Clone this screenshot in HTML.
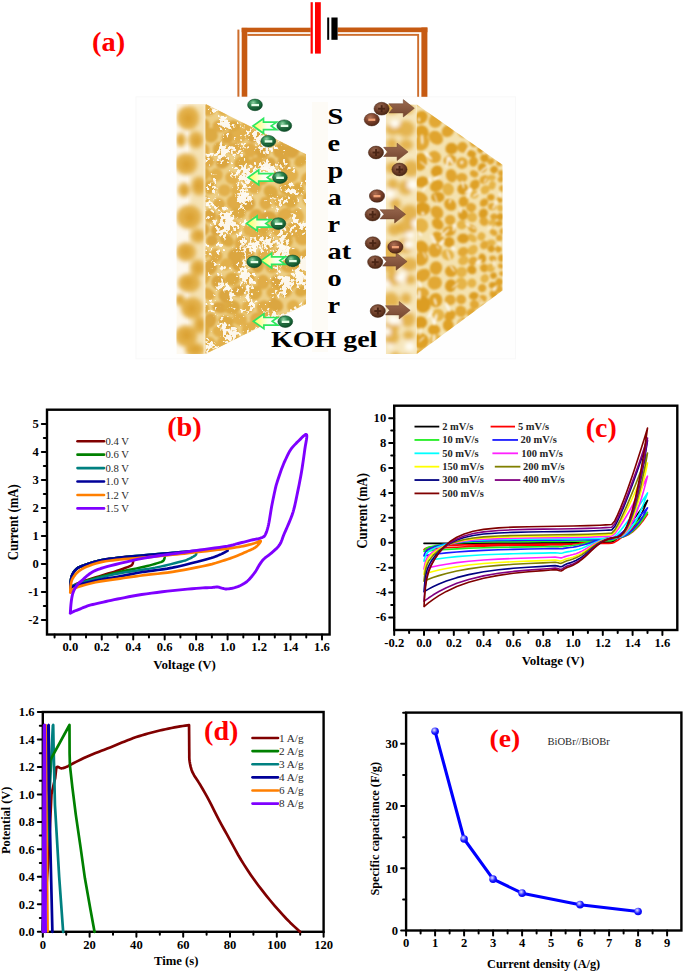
<!DOCTYPE html>
<html><head><meta charset="utf-8"><style>
html,body{margin:0;padding:0;background:#fff;}
body{width:685px;height:972px;overflow:hidden;position:relative;font-family:"Liberation Serif", serif;}
svg{position:absolute;left:0;top:0;display:block;}
svg text{font-family:"Liberation Serif", serif;}
</style></head><body>
<svg width="685" height="972" viewBox="0 0 685 972">
<rect x="136" y="96.8" width="379.6" height="262" fill="#fefefe" stroke="#f8f8f8" stroke-width="1"/>
<rect x="312" y="102" width="16" height="250" fill="#fdfbf6"/>
<defs>
<filter id="blur1" x="-10%" y="-10%" width="120%" height="120%"><feGaussianBlur stdDeviation="1.1"/></filter>
<filter id="blur2" x="-10%" y="-10%" width="120%" height="120%"><feGaussianBlur stdDeviation="2.2"/></filter>
<filter id="speck" x="0" y="0" width="100%" height="100%" color-interpolation-filters="sRGB">
  <feTurbulence type="fractalNoise" baseFrequency="0.055" numOctaves="2" seed="4" result="lo"/>
  <feColorMatrix in="lo" type="matrix" values="1 0 0 0 0  1 0 0 0 0  1 0 0 0 0  0 0 0 0 1" result="lo2"/>
  <feTurbulence type="fractalNoise" baseFrequency="0.3" numOctaves="2" seed="9" result="hi"/>
  <feColorMatrix in="hi" type="matrix" values="1 0 0 0 0  1 0 0 0 0  1 0 0 0 0  0 0 0 0 1" result="hi2"/>
  <feComposite in="lo2" in2="hi2" operator="arithmetic" k1="0" k2="1.3" k3="0.9" k4="0" result="sum"/>
  <feColorMatrix in="sum" type="matrix" values="0 0 0 0 1  0 0 0 0 1  0 0 0 0 1  -12 0 0 0 12.0" result="w"/>
  <feComposite in="w" in2="SourceGraphic" operator="in" result="c"/>
  <feGaussianBlur in="c" stdDeviation="0.45"/>
</filter>
<clipPath id="clipLF"><polygon points="205.5,104 306,154.2 306,303.9 205.5,354"/></clipPath>
<clipPath id="clipLS"><rect x="176.4" y="104" width="29.1" height="250"/></clipPath>
<clipPath id="clipRF"><polygon points="416.7,104.5 502.5,164.7 502.5,290.4 416.7,354"/></clipPath>
<clipPath id="clipRS"><rect x="385.8" y="104.5" width="30.9" height="249.5"/></clipPath>
<radialGradient id="gion" cx="0.38" cy="0.3" r="0.75"><stop offset="0" stop-color="#8fd4a4"/><stop offset="0.35" stop-color="#2f8a52"/><stop offset="0.8" stop-color="#135a30"/><stop offset="1" stop-color="#0c3f20"/></radialGradient>
<radialGradient id="bion" cx="0.4" cy="0.32" r="0.75"><stop offset="0" stop-color="#9a6a52"/><stop offset="0.5" stop-color="#6e3f2a"/><stop offset="1" stop-color="#45220f"/></radialGradient>
<radialGradient id="bion2" cx="0.4" cy="0.32" r="0.75"><stop offset="0" stop-color="#b07256"/><stop offset="0.5" stop-color="#7a402a"/><stop offset="1" stop-color="#4a2414"/></radialGradient>
<linearGradient id="garrow" x1="0" y1="0" x2="1" y2="0"><stop offset="0" stop-color="#ffff55"/><stop offset="0.6" stop-color="#fbfff0"/><stop offset="1" stop-color="#ffffff"/></linearGradient>
<linearGradient id="barrow" x1="0" y1="0" x2="0" y2="1"><stop offset="0" stop-color="#9a6a50"/><stop offset="0.5" stop-color="#885840"/><stop offset="1" stop-color="#74462f"/></linearGradient>
</defs>
<g clip-path="url(#clipLS)"><rect x="176.4" y="104" width="29.1" height="250" fill="#fdf8ee"/><rect x="190" y="104" width="16" height="250" fill="#f5e2b4" filter="url(#blur2)"/>
<g filter="url(#blur2)"><ellipse cx="188.0" cy="118.0" rx="11.2" ry="12.0" fill="#e3b048"/><ellipse cx="188.2" cy="118.5" rx="5.0" ry="5.5" fill="#d9a030" opacity="0.8"/><ellipse cx="196.0" cy="140.0" rx="7.5" ry="8.4" fill="#e3b048"/><ellipse cx="196.6" cy="140.9" rx="3.3" ry="3.9" fill="#d9a030" opacity="0.8"/><ellipse cx="186.0" cy="164.0" rx="11.2" ry="10.8" fill="#e3b048"/><ellipse cx="186.5" cy="164.8" rx="5.0" ry="5.0" fill="#d9a030" opacity="0.8"/><ellipse cx="199.0" cy="186.0" rx="7.5" ry="9.6" fill="#e3b048"/><ellipse cx="198.1" cy="185.9" rx="3.3" ry="4.4" fill="#d9a030" opacity="0.8"/><ellipse cx="189.0" cy="217.0" rx="12.5" ry="12.0" fill="#e3b048"/><ellipse cx="189.9" cy="217.3" rx="5.5" ry="5.5" fill="#d9a030" opacity="0.8"/><ellipse cx="198.0" cy="236.0" rx="7.5" ry="7.2" fill="#e3b048"/><ellipse cx="198.8" cy="235.2" rx="3.3" ry="3.3" fill="#d9a030" opacity="0.8"/><ellipse cx="186.0" cy="252.0" rx="10.0" ry="9.6" fill="#e3b048"/><ellipse cx="185.9" cy="251.5" rx="4.4" ry="4.4" fill="#d9a030" opacity="0.8"/><ellipse cx="198.0" cy="268.0" rx="7.5" ry="8.4" fill="#e3b048"/><ellipse cx="198.1" cy="268.1" rx="3.3" ry="3.9" fill="#d9a030" opacity="0.8"/><ellipse cx="189.0" cy="283.0" rx="11.2" ry="9.6" fill="#e3b048"/><ellipse cx="188.0" cy="282.4" rx="5.0" ry="4.4" fill="#d9a030" opacity="0.8"/><ellipse cx="192.0" cy="308.0" rx="11.2" ry="10.8" fill="#e3b048"/><ellipse cx="191.6" cy="308.8" rx="5.0" ry="5.0" fill="#d9a030" opacity="0.8"/><ellipse cx="200.0" cy="325.0" rx="6.2" ry="8.4" fill="#e3b048"/><ellipse cx="200.5" cy="324.3" rx="2.8" ry="3.9" fill="#d9a030" opacity="0.8"/><ellipse cx="186.0" cy="336.0" rx="11.2" ry="10.8" fill="#e3b048"/><ellipse cx="186.6" cy="335.3" rx="5.0" ry="5.0" fill="#d9a030" opacity="0.8"/><ellipse cx="195.0" cy="350.0" rx="10.0" ry="7.2" fill="#e3b048"/><ellipse cx="195.2" cy="349.3" rx="4.4" ry="3.3" fill="#d9a030" opacity="0.8"/><ellipse cx="181.0" cy="140.0" rx="5.0" ry="7.2" fill="#e3b048"/><ellipse cx="180.0" cy="140.7" rx="2.2" ry="3.3" fill="#d9a030" opacity="0.8"/><ellipse cx="180.0" cy="300.0" rx="5.0" ry="6.0" fill="#e3b048"/><ellipse cx="179.4" cy="299.4" rx="2.2" ry="2.8" fill="#d9a030" opacity="0.8"/><ellipse cx="184.0" cy="190.0" rx="6.2" ry="7.2" fill="#e3b048"/><ellipse cx="185.0" cy="190.7" rx="2.8" ry="3.3" fill="#d9a030" opacity="0.8"/></g>
<rect x="203.5" y="104" width="2" height="250" fill="#f8ecd0" opacity="0.6"/></g>
<g clip-path="url(#clipLF)"><rect x="205" y="104" width="102" height="251" fill="#edcf86"/>
<g filter="url(#blur1)"><ellipse cx="202.9" cy="99.9" rx="7.4" ry="7.1" fill="#e2b04c" transform="rotate(28 203.0 98.0)"/><ellipse cx="220.3" cy="98.1" rx="8.3" ry="6.0" fill="#e2b04c" transform="rotate(16 218.0 98.0)"/><ellipse cx="232.0" cy="97.0" rx="6.7" ry="7.2" fill="#e0ac46" transform="rotate(23 233.0 98.0)"/><ellipse cx="249.6" cy="96.9" rx="8.2" ry="7.4" fill="#dba640" transform="rotate(0 248.0 98.0)"/><ellipse cx="264.8" cy="97.1" rx="7.4" ry="7.2" fill="#e0ac46" transform="rotate(-4 263.0 98.0)"/><ellipse cx="279.2" cy="96.1" rx="8.5" ry="8.0" fill="#e0ac46" transform="rotate(1 278.0 98.0)"/><ellipse cx="290.5" cy="98.1" rx="7.9" ry="6.8" fill="#e2b04c" transform="rotate(-2 293.0 98.0)"/><ellipse cx="309.9" cy="97.3" rx="7.4" ry="6.5" fill="#e0ac46" transform="rotate(40 308.0 98.0)"/><ellipse cx="207.8" cy="109.0" rx="7.9" ry="6.9" fill="#e0ac46" transform="rotate(0 210.0 111.0)"/><ellipse cx="223.5" cy="109.5" rx="6.0" ry="6.5" fill="#e2b04c" transform="rotate(9 225.0 111.0)"/><ellipse cx="240.4" cy="110.8" rx="7.1" ry="6.7" fill="#e2b04c" transform="rotate(-1 240.0 111.0)"/><ellipse cx="254.4" cy="112.4" rx="7.2" ry="5.5" fill="#dba640" transform="rotate(-26 255.0 111.0)"/><ellipse cx="271.1" cy="112.9" rx="7.7" ry="6.1" fill="#dba640" transform="rotate(-20 270.0 111.0)"/><ellipse cx="282.7" cy="108.9" rx="8.3" ry="7.3" fill="#dba640" transform="rotate(37 285.0 111.0)"/><ellipse cx="299.6" cy="111.0" rx="8.3" ry="6.2" fill="#e2b04c" transform="rotate(-7 300.0 111.0)"/><ellipse cx="202.4" cy="125.3" rx="7.2" ry="7.1" fill="#dba640" transform="rotate(0 203.0 124.0)"/><ellipse cx="220.3" cy="126.1" rx="8.0" ry="6.3" fill="#e0ac46" transform="rotate(0 218.0 124.0)"/><ellipse cx="234.3" cy="126.3" rx="7.6" ry="6.2" fill="#ddaa42" transform="rotate(14 233.0 124.0)"/><ellipse cx="249.3" cy="124.4" rx="7.1" ry="7.5" fill="#e2b04c" transform="rotate(25 248.0 124.0)"/><ellipse cx="261.6" cy="122.0" rx="6.1" ry="7.4" fill="#e0ac46" transform="rotate(-6 263.0 124.0)"/><ellipse cx="276.5" cy="122.4" rx="8.1" ry="5.7" fill="#e0ac46" transform="rotate(37 278.0 124.0)"/><ellipse cx="293.4" cy="126.5" rx="6.2" ry="7.8" fill="#e0ac46" transform="rotate(7 293.0 124.0)"/><ellipse cx="305.6" cy="121.9" rx="6.0" ry="7.8" fill="#dba640" transform="rotate(-23 308.0 124.0)"/><ellipse cx="211.5" cy="135.6" rx="7.1" ry="7.5" fill="#ddaa42" transform="rotate(-26 210.0 137.0)"/><ellipse cx="226.8" cy="139.3" rx="6.8" ry="5.7" fill="#dba640" transform="rotate(-38 225.0 137.0)"/><ellipse cx="240.6" cy="136.1" rx="8.0" ry="6.7" fill="#e2b04c" transform="rotate(-24 240.0 137.0)"/><ellipse cx="255.0" cy="136.7" rx="7.8" ry="5.7" fill="#dba640" transform="rotate(-15 255.0 137.0)"/><ellipse cx="268.8" cy="135.4" rx="8.2" ry="6.8" fill="#ddaa42" transform="rotate(27 270.0 137.0)"/><ellipse cx="284.8" cy="137.7" rx="6.3" ry="7.5" fill="#dba640" transform="rotate(-10 285.0 137.0)"/><ellipse cx="299.2" cy="136.3" rx="6.0" ry="5.6" fill="#ddaa42" transform="rotate(-8 300.0 137.0)"/><ellipse cx="203.0" cy="150.5" rx="6.6" ry="7.0" fill="#e0ac46" transform="rotate(33 203.0 150.0)"/><ellipse cx="219.3" cy="148.9" rx="6.7" ry="7.3" fill="#ddaa42" transform="rotate(10 218.0 150.0)"/><ellipse cx="234.6" cy="148.4" rx="8.4" ry="6.4" fill="#e0ac46" transform="rotate(9 233.0 150.0)"/><ellipse cx="249.8" cy="150.9" rx="6.8" ry="7.5" fill="#e0ac46" transform="rotate(-24 248.0 150.0)"/><ellipse cx="263.6" cy="151.3" rx="7.3" ry="7.5" fill="#dba640" transform="rotate(39 263.0 150.0)"/><ellipse cx="279.8" cy="151.0" rx="7.2" ry="7.4" fill="#dba640" transform="rotate(-4 278.0 150.0)"/><ellipse cx="291.7" cy="150.8" rx="7.8" ry="7.8" fill="#dba640" transform="rotate(8 293.0 150.0)"/><ellipse cx="310.3" cy="149.3" rx="8.0" ry="6.6" fill="#dba640" transform="rotate(16 308.0 150.0)"/><ellipse cx="208.0" cy="161.4" rx="6.4" ry="6.0" fill="#e0ac46" transform="rotate(2 210.0 163.0)"/><ellipse cx="223.2" cy="161.7" rx="7.2" ry="5.9" fill="#dba640" transform="rotate(-23 225.0 163.0)"/><ellipse cx="242.1" cy="163.3" rx="8.4" ry="6.5" fill="#ddaa42" transform="rotate(-29 240.0 163.0)"/><ellipse cx="257.0" cy="163.2" rx="8.0" ry="6.5" fill="#e0ac46" transform="rotate(8 255.0 163.0)"/><ellipse cx="270.0" cy="163.0" rx="6.0" ry="5.7" fill="#dba640" transform="rotate(-1 270.0 163.0)"/><ellipse cx="283.9" cy="162.8" rx="6.4" ry="8.0" fill="#dba640" transform="rotate(-10 285.0 163.0)"/><ellipse cx="301.8" cy="162.0" rx="7.0" ry="5.5" fill="#ddaa42" transform="rotate(-39 300.0 163.0)"/><ellipse cx="202.0" cy="173.7" rx="8.3" ry="7.7" fill="#ddaa42" transform="rotate(-9 203.0 176.0)"/><ellipse cx="217.3" cy="174.1" rx="6.6" ry="6.6" fill="#e2b04c" transform="rotate(-37 218.0 176.0)"/><ellipse cx="233.6" cy="178.4" rx="7.1" ry="6.1" fill="#e2b04c" transform="rotate(39 233.0 176.0)"/><ellipse cx="247.3" cy="174.9" rx="8.4" ry="7.0" fill="#e2b04c" transform="rotate(-26 248.0 176.0)"/><ellipse cx="260.7" cy="177.1" rx="6.5" ry="6.8" fill="#ddaa42" transform="rotate(-33 263.0 176.0)"/><ellipse cx="280.0" cy="175.7" rx="8.1" ry="6.8" fill="#e2b04c" transform="rotate(25 278.0 176.0)"/><ellipse cx="291.7" cy="173.8" rx="7.7" ry="7.5" fill="#e2b04c" transform="rotate(-39 293.0 176.0)"/><ellipse cx="306.8" cy="178.4" rx="7.3" ry="6.7" fill="#e0ac46" transform="rotate(-30 308.0 176.0)"/><ellipse cx="209.4" cy="187.2" rx="6.8" ry="7.0" fill="#ddaa42" transform="rotate(-1 210.0 189.0)"/><ellipse cx="224.3" cy="190.3" rx="6.3" ry="5.9" fill="#e2b04c" transform="rotate(-4 225.0 189.0)"/><ellipse cx="238.3" cy="191.2" rx="6.8" ry="7.0" fill="#e2b04c" transform="rotate(13 240.0 189.0)"/><ellipse cx="253.4" cy="187.3" rx="7.3" ry="7.0" fill="#e2b04c" transform="rotate(23 255.0 189.0)"/><ellipse cx="272.3" cy="190.8" rx="7.6" ry="6.5" fill="#ddaa42" transform="rotate(35 270.0 189.0)"/><ellipse cx="285.9" cy="188.9" rx="6.4" ry="6.8" fill="#ddaa42" transform="rotate(-25 285.0 189.0)"/><ellipse cx="298.3" cy="189.2" rx="6.0" ry="7.1" fill="#ddaa42" transform="rotate(-5 300.0 189.0)"/><ellipse cx="201.4" cy="200.9" rx="8.4" ry="6.3" fill="#e2b04c" transform="rotate(-30 203.0 202.0)"/><ellipse cx="220.1" cy="203.3" rx="6.3" ry="5.7" fill="#e0ac46" transform="rotate(30 218.0 202.0)"/><ellipse cx="233.7" cy="202.6" rx="7.7" ry="6.9" fill="#e0ac46" transform="rotate(-38 233.0 202.0)"/><ellipse cx="247.4" cy="203.5" rx="7.9" ry="7.8" fill="#dba640" transform="rotate(6 248.0 202.0)"/><ellipse cx="265.0" cy="204.1" rx="6.1" ry="6.6" fill="#e0ac46" transform="rotate(-21 263.0 202.0)"/><ellipse cx="280.0" cy="201.3" rx="7.2" ry="6.2" fill="#e2b04c" transform="rotate(-14 278.0 202.0)"/><ellipse cx="291.5" cy="200.2" rx="7.3" ry="7.1" fill="#ddaa42" transform="rotate(-26 293.0 202.0)"/><ellipse cx="310.4" cy="200.2" rx="6.8" ry="7.8" fill="#ddaa42" transform="rotate(-28 308.0 202.0)"/><ellipse cx="210.0" cy="215.9" rx="6.5" ry="6.9" fill="#dba640" transform="rotate(6 210.0 215.0)"/><ellipse cx="222.8" cy="216.6" rx="6.7" ry="6.3" fill="#e0ac46" transform="rotate(-21 225.0 215.0)"/><ellipse cx="238.0" cy="213.1" rx="7.6" ry="6.0" fill="#ddaa42" transform="rotate(6 240.0 215.0)"/><ellipse cx="256.6" cy="215.3" rx="7.0" ry="7.5" fill="#e0ac46" transform="rotate(38 255.0 215.0)"/><ellipse cx="269.2" cy="216.7" rx="7.8" ry="5.6" fill="#dba640" transform="rotate(8 270.0 215.0)"/><ellipse cx="285.1" cy="214.4" rx="8.2" ry="6.1" fill="#e0ac46" transform="rotate(-28 285.0 215.0)"/><ellipse cx="297.6" cy="215.2" rx="6.1" ry="7.8" fill="#e2b04c" transform="rotate(-18 300.0 215.0)"/><ellipse cx="202.5" cy="229.4" rx="7.4" ry="6.6" fill="#dba640" transform="rotate(23 203.0 228.0)"/><ellipse cx="217.4" cy="229.0" rx="7.8" ry="6.0" fill="#dba640" transform="rotate(-34 218.0 228.0)"/><ellipse cx="232.2" cy="227.1" rx="8.3" ry="7.7" fill="#e2b04c" transform="rotate(-2 233.0 228.0)"/><ellipse cx="249.3" cy="230.0" rx="6.3" ry="6.3" fill="#e2b04c" transform="rotate(-1 248.0 228.0)"/><ellipse cx="261.6" cy="228.9" rx="7.5" ry="6.5" fill="#ddaa42" transform="rotate(-30 263.0 228.0)"/><ellipse cx="278.8" cy="229.3" rx="7.9" ry="6.9" fill="#e2b04c" transform="rotate(34 278.0 228.0)"/><ellipse cx="294.6" cy="228.7" rx="8.0" ry="7.5" fill="#e0ac46" transform="rotate(35 293.0 228.0)"/><ellipse cx="308.6" cy="230.0" rx="8.0" ry="6.5" fill="#ddaa42" transform="rotate(7 308.0 228.0)"/><ellipse cx="212.1" cy="241.4" rx="6.0" ry="5.5" fill="#dba640" transform="rotate(-23 210.0 241.0)"/><ellipse cx="225.8" cy="239.4" rx="8.1" ry="5.7" fill="#ddaa42" transform="rotate(35 225.0 241.0)"/><ellipse cx="241.3" cy="243.1" rx="6.8" ry="7.9" fill="#e0ac46" transform="rotate(2 240.0 241.0)"/><ellipse cx="257.5" cy="240.3" rx="7.8" ry="7.7" fill="#e2b04c" transform="rotate(-24 255.0 241.0)"/><ellipse cx="267.8" cy="241.0" rx="7.1" ry="7.7" fill="#ddaa42" transform="rotate(-38 270.0 241.0)"/><ellipse cx="286.5" cy="240.3" rx="6.6" ry="8.0" fill="#ddaa42" transform="rotate(-32 285.0 241.0)"/><ellipse cx="301.2" cy="238.9" rx="7.2" ry="5.6" fill="#e0ac46" transform="rotate(21 300.0 241.0)"/><ellipse cx="201.4" cy="253.1" rx="7.9" ry="5.7" fill="#e2b04c" transform="rotate(18 203.0 254.0)"/><ellipse cx="215.5" cy="254.6" rx="6.4" ry="7.0" fill="#e0ac46" transform="rotate(-23 218.0 254.0)"/><ellipse cx="235.0" cy="256.2" rx="8.0" ry="7.3" fill="#dba640" transform="rotate(-19 233.0 254.0)"/><ellipse cx="246.3" cy="253.8" rx="7.6" ry="6.2" fill="#dba640" transform="rotate(32 248.0 254.0)"/><ellipse cx="263.3" cy="255.9" rx="7.0" ry="7.3" fill="#e2b04c" transform="rotate(-31 263.0 254.0)"/><ellipse cx="280.0" cy="253.4" rx="7.8" ry="5.8" fill="#ddaa42" transform="rotate(26 278.0 254.0)"/><ellipse cx="292.3" cy="254.8" rx="7.8" ry="6.5" fill="#ddaa42" transform="rotate(-37 293.0 254.0)"/><ellipse cx="305.5" cy="254.9" rx="8.5" ry="6.5" fill="#e0ac46" transform="rotate(-28 308.0 254.0)"/><ellipse cx="210.5" cy="267.0" rx="6.7" ry="7.6" fill="#dba640" transform="rotate(4 210.0 267.0)"/><ellipse cx="227.2" cy="265.1" rx="6.5" ry="5.6" fill="#e2b04c" transform="rotate(-32 225.0 267.0)"/><ellipse cx="238.0" cy="265.0" rx="6.5" ry="6.5" fill="#dba640" transform="rotate(1 240.0 267.0)"/><ellipse cx="257.4" cy="265.3" rx="6.3" ry="7.4" fill="#dba640" transform="rotate(7 255.0 267.0)"/><ellipse cx="272.1" cy="265.2" rx="7.5" ry="7.7" fill="#e2b04c" transform="rotate(14 270.0 267.0)"/><ellipse cx="287.4" cy="265.3" rx="7.9" ry="6.5" fill="#e0ac46" transform="rotate(22 285.0 267.0)"/><ellipse cx="302.3" cy="266.3" rx="7.8" ry="5.6" fill="#ddaa42" transform="rotate(-6 300.0 267.0)"/><ellipse cx="203.8" cy="278.4" rx="8.3" ry="6.6" fill="#e2b04c" transform="rotate(-40 203.0 280.0)"/><ellipse cx="217.4" cy="282.1" rx="7.0" ry="7.2" fill="#dba640" transform="rotate(-23 218.0 280.0)"/><ellipse cx="232.5" cy="278.9" rx="7.7" ry="6.8" fill="#ddaa42" transform="rotate(-5 233.0 280.0)"/><ellipse cx="247.6" cy="278.7" rx="6.6" ry="7.4" fill="#e0ac46" transform="rotate(36 248.0 280.0)"/><ellipse cx="262.8" cy="282.1" rx="6.6" ry="7.4" fill="#e0ac46" transform="rotate(-5 263.0 280.0)"/><ellipse cx="276.1" cy="282.4" rx="6.3" ry="7.8" fill="#dba640" transform="rotate(-15 278.0 280.0)"/><ellipse cx="290.9" cy="281.5" rx="8.2" ry="7.4" fill="#e2b04c" transform="rotate(-9 293.0 280.0)"/><ellipse cx="305.9" cy="279.4" rx="7.8" ry="6.3" fill="#e2b04c" transform="rotate(10 308.0 280.0)"/><ellipse cx="208.4" cy="295.1" rx="7.8" ry="5.7" fill="#e0ac46" transform="rotate(31 210.0 293.0)"/><ellipse cx="223.8" cy="295.5" rx="6.4" ry="7.4" fill="#dba640" transform="rotate(-25 225.0 293.0)"/><ellipse cx="239.4" cy="290.7" rx="8.1" ry="5.8" fill="#dba640" transform="rotate(-11 240.0 293.0)"/><ellipse cx="254.7" cy="292.8" rx="7.1" ry="7.6" fill="#ddaa42" transform="rotate(17 255.0 293.0)"/><ellipse cx="272.1" cy="291.3" rx="6.3" ry="6.1" fill="#e2b04c" transform="rotate(31 270.0 293.0)"/><ellipse cx="286.8" cy="290.9" rx="6.7" ry="7.2" fill="#ddaa42" transform="rotate(-35 285.0 293.0)"/><ellipse cx="302.4" cy="291.6" rx="7.2" ry="5.5" fill="#ddaa42" transform="rotate(-16 300.0 293.0)"/><ellipse cx="203.0" cy="308.5" rx="6.0" ry="5.9" fill="#ddaa42" transform="rotate(-4 203.0 306.0)"/><ellipse cx="220.1" cy="307.1" rx="7.9" ry="5.6" fill="#dba640" transform="rotate(11 218.0 306.0)"/><ellipse cx="232.0" cy="307.4" rx="8.4" ry="7.3" fill="#ddaa42" transform="rotate(0 233.0 306.0)"/><ellipse cx="247.7" cy="307.1" rx="6.2" ry="6.3" fill="#e2b04c" transform="rotate(-5 248.0 306.0)"/><ellipse cx="264.2" cy="307.6" rx="7.9" ry="7.5" fill="#e0ac46" transform="rotate(2 263.0 306.0)"/><ellipse cx="275.6" cy="306.4" rx="7.9" ry="6.4" fill="#dba640" transform="rotate(35 278.0 306.0)"/><ellipse cx="293.2" cy="306.2" rx="6.3" ry="6.0" fill="#e2b04c" transform="rotate(-14 293.0 306.0)"/><ellipse cx="308.8" cy="307.0" rx="6.1" ry="7.7" fill="#e2b04c" transform="rotate(-20 308.0 306.0)"/><ellipse cx="210.5" cy="320.5" rx="6.3" ry="7.6" fill="#dba640" transform="rotate(20 210.0 319.0)"/><ellipse cx="226.4" cy="321.1" rx="8.0" ry="5.8" fill="#ddaa42" transform="rotate(10 225.0 319.0)"/><ellipse cx="239.8" cy="319.4" rx="7.6" ry="6.4" fill="#e2b04c" transform="rotate(18 240.0 319.0)"/><ellipse cx="257.0" cy="319.3" rx="7.0" ry="6.9" fill="#e0ac46" transform="rotate(-5 255.0 319.0)"/><ellipse cx="270.0" cy="316.9" rx="6.4" ry="6.7" fill="#e2b04c" transform="rotate(26 270.0 319.0)"/><ellipse cx="285.1" cy="320.5" rx="7.4" ry="5.5" fill="#e2b04c" transform="rotate(38 285.0 319.0)"/><ellipse cx="300.0" cy="320.9" rx="7.4" ry="7.0" fill="#e2b04c" transform="rotate(17 300.0 319.0)"/><ellipse cx="202.9" cy="331.0" rx="6.1" ry="7.6" fill="#ddaa42" transform="rotate(23 203.0 332.0)"/><ellipse cx="220.2" cy="331.0" rx="8.2" ry="5.9" fill="#e2b04c" transform="rotate(15 218.0 332.0)"/><ellipse cx="231.1" cy="332.0" rx="7.2" ry="7.3" fill="#e0ac46" transform="rotate(-20 233.0 332.0)"/><ellipse cx="248.4" cy="329.5" rx="8.0" ry="7.9" fill="#e2b04c" transform="rotate(28 248.0 332.0)"/><ellipse cx="261.1" cy="333.0" rx="8.1" ry="7.5" fill="#e2b04c" transform="rotate(-8 263.0 332.0)"/><ellipse cx="275.6" cy="331.6" rx="6.0" ry="5.9" fill="#e2b04c" transform="rotate(33 278.0 332.0)"/><ellipse cx="294.1" cy="330.5" rx="7.1" ry="6.8" fill="#ddaa42" transform="rotate(22 293.0 332.0)"/><ellipse cx="309.7" cy="332.8" rx="8.0" ry="6.9" fill="#dba640" transform="rotate(-6 308.0 332.0)"/><ellipse cx="208.5" cy="345.6" rx="7.8" ry="8.0" fill="#e2b04c" transform="rotate(33 210.0 345.0)"/><ellipse cx="222.6" cy="344.2" rx="6.4" ry="7.7" fill="#e2b04c" transform="rotate(3 225.0 345.0)"/><ellipse cx="238.6" cy="342.9" rx="6.2" ry="5.7" fill="#ddaa42" transform="rotate(40 240.0 345.0)"/><ellipse cx="254.2" cy="344.0" rx="7.4" ry="6.7" fill="#dba640" transform="rotate(2 255.0 345.0)"/><ellipse cx="268.5" cy="345.3" rx="7.7" ry="6.4" fill="#ddaa42" transform="rotate(-40 270.0 345.0)"/><ellipse cx="282.8" cy="347.5" rx="6.2" ry="8.0" fill="#e2b04c" transform="rotate(19 285.0 345.0)"/><ellipse cx="299.5" cy="345.4" rx="7.4" ry="6.8" fill="#e2b04c" transform="rotate(24 300.0 345.0)"/><ellipse cx="203.1" cy="356.1" rx="7.5" ry="7.9" fill="#e0ac46" transform="rotate(-31 203.0 358.0)"/><ellipse cx="220.2" cy="356.7" rx="6.7" ry="5.9" fill="#dba640" transform="rotate(26 218.0 358.0)"/><ellipse cx="231.7" cy="357.2" rx="7.5" ry="6.4" fill="#e2b04c" transform="rotate(-21 233.0 358.0)"/><ellipse cx="248.9" cy="355.8" rx="7.3" ry="6.2" fill="#e2b04c" transform="rotate(-6 248.0 358.0)"/><ellipse cx="263.6" cy="358.5" rx="7.3" ry="7.1" fill="#e2b04c" transform="rotate(-25 263.0 358.0)"/><ellipse cx="279.8" cy="357.2" rx="7.9" ry="6.0" fill="#ddaa42" transform="rotate(-13 278.0 358.0)"/><ellipse cx="294.3" cy="358.1" rx="7.4" ry="7.6" fill="#e2b04c" transform="rotate(15 293.0 358.0)"/><ellipse cx="307.0" cy="360.5" rx="7.0" ry="5.8" fill="#ddaa42" transform="rotate(-7 308.0 358.0)"/></g>
<rect x="205" y="104" width="102" height="251" fill="#ffffff" filter="url(#speck)" opacity="0.9"/>
</g>
<g clip-path="url(#clipRS)"><rect x="385.8" y="104.5" width="31" height="250" fill="#f6e6bc"/>
<g filter="url(#blur2)"><ellipse cx="392.0" cy="105.4" rx="8.2" ry="8.6" fill="#e2ab3c" opacity="0.85"/><ellipse cx="407.9" cy="108.6" rx="5.5" ry="5.4" fill="#e2ab3c" opacity="0.85"/><ellipse cx="393.0" cy="129.4" rx="7.5" ry="6.1" fill="#e2ab3c" opacity="0.85"/><ellipse cx="406.0" cy="129.0" rx="8.8" ry="8.4" fill="#e2ab3c" opacity="0.85"/><ellipse cx="391.9" cy="143.8" rx="5.7" ry="5.9" fill="#e2ab3c" opacity="0.85"/><ellipse cx="406.2" cy="144.8" rx="7.1" ry="5.9" fill="#e2ab3c" opacity="0.85"/><ellipse cx="392.6" cy="168.1" rx="7.2" ry="6.0" fill="#e2ab3c" opacity="0.85"/><ellipse cx="410.9" cy="168.5" rx="8.4" ry="8.5" fill="#e2ab3c" opacity="0.85"/><ellipse cx="392.8" cy="184.0" rx="5.4" ry="5.6" fill="#e2ab3c" opacity="0.85"/><ellipse cx="405.6" cy="187.6" rx="7.2" ry="7.4" fill="#e2ab3c" opacity="0.85"/><ellipse cx="395.6" cy="204.1" rx="5.5" ry="5.8" fill="#e2ab3c" opacity="0.85"/><ellipse cx="409.5" cy="213.0" rx="8.9" ry="8.5" fill="#e2ab3c" opacity="0.85"/><ellipse cx="394.4" cy="229.5" rx="6.9" ry="6.3" fill="#e2ab3c" opacity="0.85"/><ellipse cx="405.2" cy="226.8" rx="8.8" ry="7.1" fill="#e2ab3c" opacity="0.85"/><ellipse cx="390.7" cy="250.8" rx="9.0" ry="9.6" fill="#e2ab3c" opacity="0.85"/><ellipse cx="405.3" cy="245.7" rx="7.8" ry="7.8" fill="#e2ab3c" opacity="0.85"/><ellipse cx="390.6" cy="267.0" rx="6.2" ry="6.7" fill="#e2ab3c" opacity="0.85"/><ellipse cx="409.5" cy="264.3" rx="8.7" ry="7.1" fill="#e2ab3c" opacity="0.85"/><ellipse cx="394.5" cy="278.7" rx="8.0" ry="6.5" fill="#e2ab3c" opacity="0.85"/><ellipse cx="410.5" cy="279.6" rx="5.4" ry="4.9" fill="#e2ab3c" opacity="0.85"/><ellipse cx="390.8" cy="300.9" rx="8.5" ry="8.8" fill="#e2ab3c" opacity="0.85"/><ellipse cx="406.0" cy="298.5" rx="5.3" ry="5.8" fill="#e2ab3c" opacity="0.85"/><ellipse cx="392.3" cy="326.5" rx="7.0" ry="7.1" fill="#e2ab3c" opacity="0.85"/><ellipse cx="407.9" cy="319.4" rx="7.4" ry="7.8" fill="#e2ab3c" opacity="0.85"/><ellipse cx="391.8" cy="337.1" rx="7.5" ry="7.0" fill="#e2ab3c" opacity="0.85"/><ellipse cx="408.6" cy="335.0" rx="5.8" ry="4.6" fill="#e2ab3c" opacity="0.85"/><ellipse cx="395.3" cy="357.2" rx="5.4" ry="5.4" fill="#e2ab3c" opacity="0.85"/><ellipse cx="406.0" cy="361.7" rx="8.1" ry="7.4" fill="#e2ab3c" opacity="0.85"/><ellipse cx="400.6" cy="277.8" rx="5.2" ry="4.3" fill="#fffdf5"/><ellipse cx="391.2" cy="311.1" rx="3.9" ry="3.3" fill="#fffdf5"/><ellipse cx="393.0" cy="320.1" rx="5.5" ry="4.6" fill="#fffdf5"/><ellipse cx="412.5" cy="184.9" rx="5.7" ry="4.7" fill="#fffdf5"/><ellipse cx="409.8" cy="346.5" rx="5.1" ry="4.3" fill="#fffdf5"/><ellipse cx="417.0" cy="223.5" rx="5.1" ry="4.2" fill="#fffdf5"/><ellipse cx="410.0" cy="235.1" rx="4.2" ry="3.5" fill="#fffdf5"/><ellipse cx="397.8" cy="321.1" rx="3.8" ry="3.1" fill="#fffdf5"/><ellipse cx="408.9" cy="244.5" rx="4.9" ry="4.1" fill="#fffdf5"/><ellipse cx="394.9" cy="123.7" rx="4.8" ry="4.0" fill="#fffdf5"/><ellipse cx="389.6" cy="193.9" rx="5.2" ry="4.3" fill="#fffdf5"/><ellipse cx="386.6" cy="331.8" rx="4.5" ry="3.8" fill="#fffdf5"/><ellipse cx="403.0" cy="273.3" rx="2.6" ry="2.2" fill="#fffdf5"/><ellipse cx="385.7" cy="284.1" rx="4.5" ry="3.8" fill="#fffdf5"/><ellipse cx="405.5" cy="309.8" rx="3.4" ry="2.8" fill="#fffdf5"/><ellipse cx="390.2" cy="346.2" rx="2.6" ry="2.2" fill="#fffdf5"/></g></g>
<g clip-path="url(#clipRF)"><rect x="416" y="104" width="88" height="251" fill="#f4e2b0"/>
<g filter="url(#blur1)"><ellipse cx="421.5" cy="98.7" rx="8.1" ry="7.5" fill="#dc9d24" transform="rotate(15 421.5 98.7)"/><ellipse cx="421.1" cy="117.4" rx="7.1" ry="6.1" fill="#dfa128" transform="rotate(-42 421.1 117.4)"/><ellipse cx="422.0" cy="132.2" rx="7.2" ry="6.5" fill="#dfa128" transform="rotate(48 422.0 132.2)"/><ellipse cx="421.5" cy="142.7" rx="7.4" ry="8.4" fill="#e2a834" transform="rotate(33 421.5 142.7)"/><ellipse cx="420.5" cy="161.8" rx="6.7" ry="9.0" fill="#dfa128" transform="rotate(8 420.5 161.8)"/><ellipse cx="421.9" cy="181.9" rx="6.8" ry="5.4" fill="#dc9d24" transform="rotate(-20 421.9 181.9)"/><ellipse cx="419.8" cy="197.2" rx="8.1" ry="5.2" fill="#e0a42e" transform="rotate(21 419.8 197.2)"/><ellipse cx="422.3" cy="208.9" rx="7.9" ry="6.7" fill="#dc9d24" transform="rotate(-4 422.3 208.9)"/><ellipse cx="421.0" cy="225.5" rx="7.1" ry="7.4" fill="#e6b446" transform="rotate(-39 421.0 225.5)"/><ellipse cx="421.9" cy="247.2" rx="7.3" ry="6.0" fill="#dfa128" transform="rotate(45 421.9 247.2)"/><ellipse cx="421.3" cy="258.7" rx="6.7" ry="7.3" fill="#e0a42e" transform="rotate(30 421.3 258.7)"/><ellipse cx="422.7" cy="275.3" rx="8.0" ry="6.1" fill="#e0a42e" transform="rotate(-29 422.7 275.3)"/><ellipse cx="422.3" cy="292.3" rx="6.8" ry="5.1" fill="#e2a834" transform="rotate(16 422.3 292.3)"/><ellipse cx="422.8" cy="304.4" rx="8.0" ry="8.3" fill="#dc9d24" transform="rotate(-6 422.8 304.4)"/><ellipse cx="420.5" cy="322.5" rx="6.8" ry="6.3" fill="#dc9d24" transform="rotate(2 420.5 322.5)"/><ellipse cx="420.9" cy="341.1" rx="7.9" ry="8.0" fill="#dfa128" transform="rotate(-46 420.9 341.1)"/><ellipse cx="419.7" cy="356.0" rx="7.5" ry="6.2" fill="#e2a834" transform="rotate(-31 419.7 356.0)"/><ellipse cx="435.0" cy="109.3" rx="7.1" ry="6.2" fill="#e0a42e" transform="rotate(-23 435.0 109.3)"/><ellipse cx="435.5" cy="120.7" rx="6.7" ry="7.2" fill="#e2a834" transform="rotate(24 435.5 120.7)"/><ellipse cx="435.9" cy="137.7" rx="6.3" ry="7.7" fill="#e0a42e" transform="rotate(-49 435.9 137.7)"/><ellipse cx="434.5" cy="157.0" rx="6.7" ry="6.1" fill="#e2a834" transform="rotate(24 434.5 157.0)"/><ellipse cx="436.7" cy="171.3" rx="6.1" ry="5.5" fill="#dc9d24" transform="rotate(-38 436.7 171.3)"/><ellipse cx="436.6" cy="185.8" rx="7.1" ry="5.6" fill="#dfa128" transform="rotate(-34 436.6 185.8)"/><ellipse cx="437.8" cy="197.2" rx="6.7" ry="5.3" fill="#dc9d24" transform="rotate(-2 437.8 197.2)"/><ellipse cx="437.0" cy="212.4" rx="6.9" ry="5.9" fill="#e0a42e" transform="rotate(49 437.0 212.4)"/><ellipse cx="437.7" cy="224.0" rx="6.4" ry="5.1" fill="#dfa128" transform="rotate(41 437.7 224.0)"/><ellipse cx="437.9" cy="237.2" rx="6.2" ry="5.1" fill="#dfa128" transform="rotate(42 437.9 237.2)"/><ellipse cx="435.2" cy="250.0" rx="6.6" ry="7.4" fill="#e0a42e" transform="rotate(19 435.2 250.0)"/><ellipse cx="436.0" cy="268.0" rx="6.3" ry="6.8" fill="#e0a42e" transform="rotate(17 436.0 268.0)"/><ellipse cx="434.8" cy="282.9" rx="7.2" ry="6.7" fill="#e2a834" transform="rotate(-10 434.8 282.9)"/><ellipse cx="435.7" cy="300.1" rx="6.7" ry="7.1" fill="#dfa128" transform="rotate(7 435.7 300.1)"/><ellipse cx="437.8" cy="315.0" rx="6.5" ry="6.3" fill="#e6b446" transform="rotate(1 437.8 315.0)"/><ellipse cx="434.1" cy="329.8" rx="6.2" ry="5.3" fill="#dfa128" transform="rotate(1 434.1 329.8)"/><ellipse cx="435.8" cy="340.4" rx="6.3" ry="6.4" fill="#e6b446" transform="rotate(33 435.8 340.4)"/><ellipse cx="435.9" cy="357.5" rx="7.1" ry="5.5" fill="#e0a42e" transform="rotate(30 435.9 357.5)"/><ellipse cx="450.5" cy="106.1" rx="5.6" ry="6.4" fill="#e2a834" transform="rotate(-1 450.5 106.1)"/><ellipse cx="449.1" cy="119.8" rx="5.5" ry="4.8" fill="#dfa128" transform="rotate(0 449.1 119.8)"/><ellipse cx="447.9" cy="130.9" rx="5.7" ry="6.7" fill="#e0a42e" transform="rotate(45 447.9 130.9)"/><ellipse cx="451.5" cy="148.6" rx="6.2" ry="5.8" fill="#dc9d24" transform="rotate(-8 451.5 148.6)"/><ellipse cx="449.9" cy="160.1" rx="6.5" ry="5.1" fill="#dfa128" transform="rotate(-18 449.9 160.1)"/><ellipse cx="451.4" cy="175.7" rx="5.5" ry="6.8" fill="#e0a42e" transform="rotate(-15 451.4 175.7)"/><ellipse cx="448.2" cy="189.3" rx="5.8" ry="6.3" fill="#e6b446" transform="rotate(-15 448.2 189.3)"/><ellipse cx="450.2" cy="204.8" rx="5.5" ry="6.6" fill="#dfa128" transform="rotate(-46 450.2 204.8)"/><ellipse cx="450.1" cy="220.1" rx="5.3" ry="5.3" fill="#e2a834" transform="rotate(-45 450.1 220.1)"/><ellipse cx="449.3" cy="231.1" rx="6.5" ry="5.0" fill="#dfa128" transform="rotate(-11 449.3 231.1)"/><ellipse cx="449.1" cy="242.2" rx="5.4" ry="5.2" fill="#dc9d24" transform="rotate(5 449.1 242.2)"/><ellipse cx="447.8" cy="254.8" rx="6.4" ry="5.4" fill="#e6b446" transform="rotate(23 447.8 254.8)"/><ellipse cx="451.0" cy="271.3" rx="6.1" ry="5.7" fill="#dfa128" transform="rotate(5 451.0 271.3)"/><ellipse cx="450.6" cy="285.6" rx="5.5" ry="6.5" fill="#dc9d24" transform="rotate(17 450.6 285.6)"/><ellipse cx="450.1" cy="299.9" rx="5.5" ry="5.4" fill="#e2a834" transform="rotate(-14 450.1 299.9)"/><ellipse cx="450.1" cy="315.6" rx="6.1" ry="4.8" fill="#dfa128" transform="rotate(-38 450.1 315.6)"/><ellipse cx="448.3" cy="325.5" rx="5.5" ry="6.1" fill="#dfa128" transform="rotate(-15 448.3 325.5)"/><ellipse cx="450.2" cy="339.4" rx="5.6" ry="5.9" fill="#dfa128" transform="rotate(-18 450.2 339.4)"/><ellipse cx="450.3" cy="356.0" rx="5.8" ry="5.2" fill="#e0a42e" transform="rotate(-22 450.3 356.0)"/><ellipse cx="461.3" cy="100.9" rx="4.8" ry="3.9" fill="#dc9d24" transform="rotate(11 461.3 100.9)"/><ellipse cx="463.3" cy="112.1" rx="5.5" ry="4.1" fill="#e2a834" transform="rotate(49 463.3 112.1)"/><ellipse cx="462.3" cy="122.0" rx="5.8" ry="5.2" fill="#dfa128" transform="rotate(9 462.3 122.0)"/><ellipse cx="463.1" cy="132.5" rx="4.9" ry="5.7" fill="#e2a834" transform="rotate(-47 463.1 132.5)"/><ellipse cx="462.5" cy="147.3" rx="5.3" ry="5.5" fill="#e0a42e" transform="rotate(-22 462.5 147.3)"/><ellipse cx="462.1" cy="163.1" rx="5.8" ry="5.8" fill="#e2a834" transform="rotate(26 462.1 163.1)"/><ellipse cx="462.0" cy="177.7" rx="5.4" ry="4.8" fill="#e2a834" transform="rotate(4 462.0 177.7)"/><ellipse cx="462.9" cy="189.2" rx="5.6" ry="5.6" fill="#dc9d24" transform="rotate(18 462.9 189.2)"/><ellipse cx="463.5" cy="201.5" rx="4.9" ry="5.3" fill="#dfa128" transform="rotate(28 463.5 201.5)"/><ellipse cx="463.0" cy="214.8" rx="5.0" ry="5.3" fill="#dc9d24" transform="rotate(-2 463.0 214.8)"/><ellipse cx="461.8" cy="224.8" rx="5.0" ry="4.7" fill="#e6b446" transform="rotate(-7 461.8 224.8)"/><ellipse cx="463.1" cy="238.5" rx="5.9" ry="5.1" fill="#dc9d24" transform="rotate(0 463.1 238.5)"/><ellipse cx="463.0" cy="251.7" rx="5.4" ry="4.5" fill="#e2a834" transform="rotate(-25 463.0 251.7)"/><ellipse cx="463.4" cy="260.5" rx="5.5" ry="4.5" fill="#e6b446" transform="rotate(-34 463.4 260.5)"/><ellipse cx="461.7" cy="272.0" rx="5.4" ry="5.2" fill="#e6b446" transform="rotate(-18 461.7 272.0)"/><ellipse cx="461.4" cy="283.6" rx="5.6" ry="6.1" fill="#e6b446" transform="rotate(-25 461.4 283.6)"/><ellipse cx="461.2" cy="299.4" rx="5.0" ry="4.8" fill="#e2a834" transform="rotate(46 461.2 299.4)"/><ellipse cx="460.9" cy="311.3" rx="5.5" ry="5.8" fill="#e2a834" transform="rotate(-33 460.9 311.3)"/><ellipse cx="462.7" cy="323.2" rx="5.8" ry="5.1" fill="#e2a834" transform="rotate(-49 462.7 323.2)"/><ellipse cx="460.4" cy="334.7" rx="4.8" ry="4.6" fill="#e6b446" transform="rotate(27 460.4 334.7)"/><ellipse cx="460.0" cy="348.2" rx="5.5" ry="5.3" fill="#e0a42e" transform="rotate(18 460.0 348.2)"/><ellipse cx="473.6" cy="109.2" rx="4.4" ry="4.2" fill="#e2a834" transform="rotate(6 473.6 109.2)"/><ellipse cx="472.9" cy="119.3" rx="4.7" ry="4.5" fill="#dc9d24" transform="rotate(32 472.9 119.3)"/><ellipse cx="474.4" cy="132.0" rx="5.0" ry="5.1" fill="#e0a42e" transform="rotate(-31 474.4 132.0)"/><ellipse cx="474.2" cy="142.9" rx="4.5" ry="4.3" fill="#e2a834" transform="rotate(8 474.2 142.9)"/><ellipse cx="471.6" cy="153.9" rx="4.5" ry="3.6" fill="#dc9d24" transform="rotate(18 471.6 153.9)"/><ellipse cx="473.5" cy="161.7" rx="4.4" ry="5.0" fill="#dfa128" transform="rotate(18 473.5 161.7)"/><ellipse cx="474.1" cy="173.8" rx="4.3" ry="3.4" fill="#e0a42e" transform="rotate(23 474.1 173.8)"/><ellipse cx="474.7" cy="184.8" rx="4.6" ry="5.6" fill="#dfa128" transform="rotate(37 474.7 184.8)"/><ellipse cx="474.2" cy="194.4" rx="4.3" ry="4.2" fill="#e6b446" transform="rotate(24 474.2 194.4)"/><ellipse cx="471.2" cy="207.4" rx="5.0" ry="4.7" fill="#e2a834" transform="rotate(17 471.2 207.4)"/><ellipse cx="472.2" cy="217.3" rx="4.9" ry="5.0" fill="#e6b446" transform="rotate(-13 472.2 217.3)"/><ellipse cx="472.2" cy="228.6" rx="5.1" ry="3.4" fill="#e2a834" transform="rotate(42 472.2 228.6)"/><ellipse cx="472.3" cy="238.0" rx="5.2" ry="3.5" fill="#e6b446" transform="rotate(45 472.3 238.0)"/><ellipse cx="472.7" cy="250.0" rx="4.5" ry="5.6" fill="#e6b446" transform="rotate(42 472.7 250.0)"/><ellipse cx="473.0" cy="261.0" rx="4.7" ry="4.2" fill="#e2a834" transform="rotate(-48 473.0 261.0)"/><ellipse cx="471.8" cy="269.8" rx="4.4" ry="4.8" fill="#dc9d24" transform="rotate(-49 471.8 269.8)"/><ellipse cx="471.9" cy="283.1" rx="4.5" ry="4.7" fill="#e6b446" transform="rotate(-2 471.9 283.1)"/><ellipse cx="473.8" cy="295.9" rx="4.9" ry="3.9" fill="#dc9d24" transform="rotate(-8 473.8 295.9)"/><ellipse cx="474.6" cy="304.7" rx="4.9" ry="4.5" fill="#e2a834" transform="rotate(36 474.6 304.7)"/><ellipse cx="471.3" cy="312.9" rx="4.6" ry="4.8" fill="#e2a834" transform="rotate(50 471.3 312.9)"/><ellipse cx="472.6" cy="327.2" rx="5.2" ry="3.6" fill="#e2a834" transform="rotate(28 472.6 327.2)"/><ellipse cx="471.9" cy="335.0" rx="5.1" ry="5.4" fill="#dfa128" transform="rotate(-26 471.9 335.0)"/><ellipse cx="473.8" cy="348.7" rx="4.9" ry="4.4" fill="#dc9d24" transform="rotate(34 473.8 348.7)"/><ellipse cx="474.1" cy="359.8" rx="4.4" ry="4.8" fill="#dfa128" transform="rotate(-39 474.1 359.8)"/><ellipse cx="483.0" cy="99.3" rx="3.9" ry="3.4" fill="#e2a834" transform="rotate(-13 483.0 99.3)"/><ellipse cx="484.6" cy="108.8" rx="4.7" ry="4.3" fill="#e6b446" transform="rotate(-15 484.6 108.8)"/><ellipse cx="483.9" cy="121.7" rx="4.2" ry="4.1" fill="#e2a834" transform="rotate(39 483.9 121.7)"/><ellipse cx="482.5" cy="130.0" rx="4.0" ry="3.4" fill="#e2a834" transform="rotate(-39 482.5 130.0)"/><ellipse cx="484.3" cy="137.1" rx="3.8" ry="3.9" fill="#e2a834" transform="rotate(38 484.3 137.1)"/><ellipse cx="481.2" cy="149.6" rx="4.1" ry="3.7" fill="#dc9d24" transform="rotate(-21 481.2 149.6)"/><ellipse cx="484.5" cy="158.0" rx="4.4" ry="4.3" fill="#dc9d24" transform="rotate(-28 484.5 158.0)"/><ellipse cx="482.4" cy="167.8" rx="4.5" ry="4.7" fill="#dc9d24" transform="rotate(-13 482.4 167.8)"/><ellipse cx="484.0" cy="179.5" rx="4.0" ry="4.8" fill="#e2a834" transform="rotate(48 484.0 179.5)"/><ellipse cx="485.1" cy="189.8" rx="4.2" ry="4.9" fill="#e6b446" transform="rotate(50 485.1 189.8)"/><ellipse cx="484.0" cy="202.7" rx="4.6" ry="3.8" fill="#dfa128" transform="rotate(-40 484.0 202.7)"/><ellipse cx="483.3" cy="213.5" rx="4.5" ry="5.1" fill="#dc9d24" transform="rotate(28 483.3 213.5)"/><ellipse cx="484.0" cy="221.5" rx="4.3" ry="4.8" fill="#e2a834" transform="rotate(-50 484.0 221.5)"/><ellipse cx="481.4" cy="236.4" rx="3.9" ry="4.2" fill="#e6b446" transform="rotate(27 481.4 236.4)"/><ellipse cx="484.3" cy="245.1" rx="4.0" ry="4.5" fill="#e2a834" transform="rotate(47 484.3 245.1)"/><ellipse cx="482.3" cy="258.3" rx="3.9" ry="4.8" fill="#dc9d24" transform="rotate(-10 482.3 258.3)"/><ellipse cx="484.2" cy="268.0" rx="4.1" ry="4.1" fill="#dfa128" transform="rotate(-40 484.2 268.0)"/><ellipse cx="484.7" cy="278.5" rx="4.1" ry="4.6" fill="#e6b446" transform="rotate(34 484.7 278.5)"/><ellipse cx="482.2" cy="288.1" rx="4.1" ry="4.2" fill="#e0a42e" transform="rotate(45 482.2 288.1)"/><ellipse cx="482.8" cy="298.5" rx="4.0" ry="3.7" fill="#e2a834" transform="rotate(19 482.8 298.5)"/><ellipse cx="484.7" cy="308.0" rx="4.0" ry="4.3" fill="#dc9d24" transform="rotate(4 484.7 308.0)"/><ellipse cx="482.2" cy="319.8" rx="4.6" ry="4.3" fill="#dfa128" transform="rotate(30 482.2 319.8)"/><ellipse cx="484.5" cy="330.5" rx="4.0" ry="4.8" fill="#dfa128" transform="rotate(39 484.5 330.5)"/><ellipse cx="484.2" cy="341.9" rx="4.4" ry="3.3" fill="#dc9d24" transform="rotate(37 484.2 341.9)"/><ellipse cx="482.7" cy="350.7" rx="4.2" ry="4.2" fill="#dc9d24" transform="rotate(-13 482.7 350.7)"/><ellipse cx="493.8" cy="108.4" rx="4.2" ry="3.6" fill="#e2a834" transform="rotate(0 493.8 108.4)"/><ellipse cx="492.6" cy="118.3" rx="3.9" ry="3.4" fill="#dfa128" transform="rotate(-7 492.6 118.3)"/><ellipse cx="492.3" cy="124.9" rx="4.2" ry="3.5" fill="#dc9d24" transform="rotate(-27 492.3 124.9)"/><ellipse cx="492.9" cy="136.8" rx="4.0" ry="2.8" fill="#dc9d24" transform="rotate(26 492.9 136.8)"/><ellipse cx="493.9" cy="143.5" rx="4.2" ry="3.9" fill="#dfa128" transform="rotate(11 493.9 143.5)"/><ellipse cx="492.5" cy="151.1" rx="3.7" ry="3.9" fill="#e6b446" transform="rotate(50 492.5 151.1)"/><ellipse cx="490.9" cy="161.3" rx="3.7" ry="3.0" fill="#e0a42e" transform="rotate(-29 490.9 161.3)"/><ellipse cx="494.1" cy="169.7" rx="3.9" ry="3.7" fill="#dc9d24" transform="rotate(-38 494.1 169.7)"/><ellipse cx="491.6" cy="177.6" rx="4.0" ry="2.9" fill="#e6b446" transform="rotate(1 491.6 177.6)"/><ellipse cx="492.2" cy="185.4" rx="3.4" ry="4.3" fill="#e6b446" transform="rotate(17 492.2 185.4)"/><ellipse cx="490.9" cy="197.3" rx="3.7" ry="3.4" fill="#dfa128" transform="rotate(0 490.9 197.3)"/><ellipse cx="492.1" cy="206.6" rx="4.1" ry="3.7" fill="#e2a834" transform="rotate(2 492.1 206.6)"/><ellipse cx="493.9" cy="216.7" rx="3.6" ry="3.2" fill="#e0a42e" transform="rotate(-16 493.9 216.7)"/><ellipse cx="492.5" cy="222.9" rx="3.7" ry="3.6" fill="#e6b446" transform="rotate(-26 492.5 222.9)"/><ellipse cx="493.6" cy="232.5" rx="4.0" ry="3.0" fill="#e2a834" transform="rotate(30 493.6 232.5)"/><ellipse cx="491.4" cy="242.6" rx="4.2" ry="3.0" fill="#e6b446" transform="rotate(4 491.4 242.6)"/><ellipse cx="491.2" cy="248.8" rx="3.5" ry="3.5" fill="#dc9d24" transform="rotate(-41 491.2 248.8)"/><ellipse cx="492.8" cy="258.6" rx="3.7" ry="2.9" fill="#e0a42e" transform="rotate(16 492.8 258.6)"/><ellipse cx="490.8" cy="267.9" rx="4.2" ry="4.2" fill="#e6b446" transform="rotate(13 490.8 267.9)"/><ellipse cx="493.5" cy="275.6" rx="3.4" ry="3.2" fill="#dc9d24" transform="rotate(-25 493.5 275.6)"/><ellipse cx="492.7" cy="285.2" rx="3.9" ry="3.2" fill="#dc9d24" transform="rotate(-14 492.7 285.2)"/><ellipse cx="493.6" cy="294.2" rx="4.0" ry="4.4" fill="#dfa128" transform="rotate(-19 493.6 294.2)"/><ellipse cx="493.5" cy="302.6" rx="3.7" ry="4.2" fill="#dfa128" transform="rotate(33 493.5 302.6)"/><ellipse cx="490.3" cy="315.0" rx="4.2" ry="3.3" fill="#dfa128" transform="rotate(25 490.3 315.0)"/><ellipse cx="494.0" cy="321.7" rx="3.9" ry="3.3" fill="#dfa128" transform="rotate(30 494.0 321.7)"/><ellipse cx="491.3" cy="330.0" rx="4.0" ry="3.6" fill="#dc9d24" transform="rotate(26 491.3 330.0)"/><ellipse cx="492.5" cy="341.8" rx="4.1" ry="4.1" fill="#e0a42e" transform="rotate(16 492.5 341.8)"/><ellipse cx="490.4" cy="349.3" rx="4.0" ry="3.4" fill="#e6b446" transform="rotate(17 490.4 349.3)"/><ellipse cx="492.2" cy="360.4" rx="3.5" ry="3.7" fill="#e2a834" transform="rotate(44 492.2 360.4)"/><ellipse cx="501.2" cy="105.4" rx="3.6" ry="3.0" fill="#dc9d24" transform="rotate(31 501.2 105.4)"/><ellipse cx="502.3" cy="112.8" rx="3.0" ry="3.8" fill="#e0a42e" transform="rotate(-41 502.3 112.8)"/><ellipse cx="499.6" cy="121.1" rx="3.2" ry="3.0" fill="#e0a42e" transform="rotate(31 499.6 121.1)"/><ellipse cx="499.4" cy="129.7" rx="3.3" ry="4.0" fill="#e6b446" transform="rotate(-34 499.4 129.7)"/><ellipse cx="499.7" cy="140.3" rx="3.3" ry="3.3" fill="#e2a834" transform="rotate(-24 499.7 140.3)"/><ellipse cx="500.9" cy="149.9" rx="3.7" ry="3.4" fill="#e2a834" transform="rotate(50 500.9 149.9)"/><ellipse cx="500.7" cy="158.3" rx="3.6" ry="2.7" fill="#e0a42e" transform="rotate(26 500.7 158.3)"/><ellipse cx="499.2" cy="163.5" rx="3.1" ry="2.7" fill="#e0a42e" transform="rotate(8 499.2 163.5)"/><ellipse cx="501.2" cy="173.1" rx="3.1" ry="3.0" fill="#e0a42e" transform="rotate(5 501.2 173.1)"/><ellipse cx="501.1" cy="179.3" rx="3.4" ry="3.0" fill="#e0a42e" transform="rotate(-35 501.1 179.3)"/><ellipse cx="502.5" cy="188.6" rx="3.3" ry="3.5" fill="#e2a834" transform="rotate(-48 502.5 188.6)"/><ellipse cx="499.8" cy="199.8" rx="3.1" ry="2.8" fill="#dc9d24" transform="rotate(43 499.8 199.8)"/><ellipse cx="500.3" cy="208.1" rx="3.3" ry="3.6" fill="#e6b446" transform="rotate(-22 500.3 208.1)"/><ellipse cx="500.6" cy="216.8" rx="3.6" ry="3.6" fill="#dc9d24" transform="rotate(28 500.6 216.8)"/><ellipse cx="499.2" cy="223.6" rx="3.6" ry="2.8" fill="#dc9d24" transform="rotate(-13 499.2 223.6)"/><ellipse cx="502.5" cy="231.3" rx="3.1" ry="3.2" fill="#e2a834" transform="rotate(23 502.5 231.3)"/><ellipse cx="499.4" cy="238.1" rx="3.3" ry="3.5" fill="#e2a834" transform="rotate(-9 499.4 238.1)"/><ellipse cx="498.6" cy="249.2" rx="3.3" ry="3.3" fill="#dfa128" transform="rotate(47 498.6 249.2)"/><ellipse cx="501.3" cy="258.1" rx="3.2" ry="3.8" fill="#dfa128" transform="rotate(5 501.3 258.1)"/><ellipse cx="501.0" cy="266.1" rx="3.2" ry="2.6" fill="#e0a42e" transform="rotate(22 501.0 266.1)"/><ellipse cx="502.1" cy="273.6" rx="3.1" ry="2.6" fill="#e0a42e" transform="rotate(5 502.1 273.6)"/><ellipse cx="499.3" cy="281.9" rx="3.8" ry="3.8" fill="#dfa128" transform="rotate(32 499.3 281.9)"/><ellipse cx="499.1" cy="289.1" rx="3.7" ry="3.7" fill="#e0a42e" transform="rotate(50 499.1 289.1)"/><ellipse cx="499.7" cy="299.0" rx="3.1" ry="3.3" fill="#e6b446" transform="rotate(48 499.7 299.0)"/><ellipse cx="500.4" cy="307.0" rx="3.3" ry="3.6" fill="#dfa128" transform="rotate(-34 500.4 307.0)"/><ellipse cx="500.5" cy="317.1" rx="3.2" ry="3.1" fill="#dfa128" transform="rotate(18 500.5 317.1)"/><ellipse cx="501.4" cy="324.2" rx="3.5" ry="2.7" fill="#dfa128" transform="rotate(-22 501.4 324.2)"/><ellipse cx="501.6" cy="333.6" rx="3.0" ry="3.5" fill="#e2a834" transform="rotate(-7 501.6 333.6)"/><ellipse cx="500.3" cy="341.8" rx="3.6" ry="3.2" fill="#dc9d24" transform="rotate(6 500.3 341.8)"/><ellipse cx="499.1" cy="347.1" rx="3.6" ry="2.8" fill="#dc9d24" transform="rotate(31 499.1 347.1)"/><ellipse cx="500.3" cy="355.4" rx="3.4" ry="3.1" fill="#e6b446" transform="rotate(-46 500.3 355.4)"/></g>
<g filter="url(#blur1)"><ellipse cx="500.0" cy="195.2" rx="1.1" ry="3.1" fill="#ffffff" opacity="0.75" transform="rotate(-13 500.0 195.2)"/><ellipse cx="471.8" cy="329.4" rx="1.5" ry="2.9" fill="#ffffff" opacity="0.75" transform="rotate(-31 471.8 329.4)"/><ellipse cx="467.8" cy="224.9" rx="1.0" ry="3.9" fill="#ffffff" opacity="0.75" transform="rotate(-52 467.8 224.9)"/><ellipse cx="488.8" cy="150.1" rx="1.6" ry="2.6" fill="#ffffff" opacity="0.75" transform="rotate(17 488.8 150.1)"/><ellipse cx="452.3" cy="268.5" rx="1.0" ry="4.2" fill="#ffffff" opacity="0.75" transform="rotate(-36 452.3 268.5)"/><ellipse cx="450.1" cy="201.1" rx="1.1" ry="2.6" fill="#ffffff" opacity="0.75" transform="rotate(20 450.1 201.1)"/><ellipse cx="484.6" cy="352.1" rx="0.9" ry="5.8" fill="#ffffff" opacity="0.75" transform="rotate(-4 484.6 352.1)"/><ellipse cx="455.3" cy="285.4" rx="0.8" ry="4.3" fill="#ffffff" opacity="0.75" transform="rotate(48 455.3 285.4)"/><ellipse cx="485.4" cy="180.3" rx="0.8" ry="2.8" fill="#ffffff" opacity="0.75" transform="rotate(26 485.4 180.3)"/><ellipse cx="471.7" cy="129.9" rx="0.9" ry="4.6" fill="#ffffff" opacity="0.75" transform="rotate(19 471.7 129.9)"/><ellipse cx="445.7" cy="115.4" rx="1.2" ry="2.4" fill="#ffffff" opacity="0.75" transform="rotate(44 445.7 115.4)"/><ellipse cx="445.1" cy="232.8" rx="1.2" ry="6.0" fill="#ffffff" opacity="0.75" transform="rotate(47 445.1 232.8)"/><ellipse cx="435.3" cy="301.7" rx="1.3" ry="3.8" fill="#ffffff" opacity="0.75" transform="rotate(-15 435.3 301.7)"/><ellipse cx="478.6" cy="261.9" rx="1.6" ry="3.8" fill="#ffffff" opacity="0.75" transform="rotate(56 478.6 261.9)"/><ellipse cx="500.2" cy="137.9" rx="0.7" ry="5.3" fill="#ffffff" opacity="0.75" transform="rotate(-29 500.2 137.9)"/><ellipse cx="460.8" cy="322.7" rx="1.5" ry="2.8" fill="#ffffff" opacity="0.75" transform="rotate(42 460.8 322.7)"/><ellipse cx="428.4" cy="156.0" rx="1.6" ry="5.3" fill="#ffffff" opacity="0.75" transform="rotate(-43 428.4 156.0)"/><ellipse cx="429.7" cy="179.7" rx="1.5" ry="2.7" fill="#ffffff" opacity="0.75" transform="rotate(-11 429.7 179.7)"/><ellipse cx="489.9" cy="227.4" rx="0.7" ry="4.2" fill="#ffffff" opacity="0.75" transform="rotate(48 489.9 227.4)"/><ellipse cx="437.8" cy="247.3" rx="0.8" ry="2.4" fill="#ffffff" opacity="0.75" transform="rotate(-40 437.8 247.3)"/><ellipse cx="447.5" cy="162.1" rx="1.2" ry="5.8" fill="#ffffff" opacity="0.75" transform="rotate(15 447.5 162.1)"/><ellipse cx="473.7" cy="227.8" rx="0.8" ry="2.2" fill="#ffffff" opacity="0.75" transform="rotate(-55 473.7 227.8)"/><ellipse cx="449.6" cy="107.2" rx="1.6" ry="2.5" fill="#ffffff" opacity="0.75" transform="rotate(24 449.6 107.2)"/><ellipse cx="484.5" cy="151.2" rx="1.4" ry="3.2" fill="#ffffff" opacity="0.75" transform="rotate(16 484.5 151.2)"/><ellipse cx="463.1" cy="350.0" rx="0.8" ry="3.0" fill="#ffffff" opacity="0.75" transform="rotate(54 463.1 350.0)"/><ellipse cx="462.9" cy="184.5" rx="1.1" ry="4.1" fill="#ffffff" opacity="0.75" transform="rotate(-13 462.9 184.5)"/><ellipse cx="419.3" cy="294.8" rx="1.6" ry="4.8" fill="#ffffff" opacity="0.75" transform="rotate(-1 419.3 294.8)"/><ellipse cx="448.6" cy="255.3" rx="1.0" ry="5.9" fill="#ffffff" opacity="0.75" transform="rotate(-19 448.6 255.3)"/><ellipse cx="420.0" cy="233.7" rx="1.2" ry="3.1" fill="#ffffff" opacity="0.75" transform="rotate(-32 420.0 233.7)"/><ellipse cx="423.8" cy="164.4" rx="0.7" ry="5.2" fill="#ffffff" opacity="0.75" transform="rotate(-51 423.8 164.4)"/><ellipse cx="419.8" cy="284.1" rx="1.2" ry="4.4" fill="#ffffff" opacity="0.75" transform="rotate(-21 419.8 284.1)"/><ellipse cx="494.9" cy="204.8" rx="1.1" ry="5.3" fill="#ffffff" opacity="0.75" transform="rotate(25 494.9 204.8)"/><ellipse cx="495.0" cy="144.1" rx="1.6" ry="4.5" fill="#ffffff" opacity="0.75" transform="rotate(12 495.0 144.1)"/><ellipse cx="434.0" cy="338.7" rx="1.5" ry="4.5" fill="#ffffff" opacity="0.75" transform="rotate(3 434.0 338.7)"/><ellipse cx="447.1" cy="160.3" rx="0.8" ry="4.9" fill="#ffffff" opacity="0.75" transform="rotate(-7 447.1 160.3)"/><ellipse cx="436.0" cy="198.9" rx="0.7" ry="5.4" fill="#ffffff" opacity="0.75" transform="rotate(-19 436.0 198.9)"/><ellipse cx="460.6" cy="210.7" rx="1.5" ry="2.5" fill="#ffffff" opacity="0.75" transform="rotate(9 460.6 210.7)"/><ellipse cx="422.9" cy="213.6" rx="1.7" ry="2.0" fill="#ffffff" opacity="0.75" transform="rotate(-41 422.9 213.6)"/><ellipse cx="500.7" cy="130.7" rx="1.7" ry="5.9" fill="#ffffff" opacity="0.75" transform="rotate(-3 500.7 130.7)"/><ellipse cx="424.6" cy="255.1" rx="0.7" ry="3.8" fill="#ffffff" opacity="0.75" transform="rotate(-26 424.6 255.1)"/><ellipse cx="481.0" cy="300.0" rx="0.8" ry="4.4" fill="#ffffff" opacity="0.75" transform="rotate(-42 481.0 300.0)"/><ellipse cx="494.8" cy="288.7" rx="1.5" ry="3.2" fill="#ffffff" opacity="0.75" transform="rotate(35 494.8 288.7)"/><ellipse cx="461.8" cy="162.4" rx="1.6" ry="2.0" fill="#ffffff" opacity="0.75" transform="rotate(42 461.8 162.4)"/><ellipse cx="454.1" cy="227.6" rx="1.4" ry="3.9" fill="#ffffff" opacity="0.75" transform="rotate(11 454.1 227.6)"/><ellipse cx="435.4" cy="319.1" rx="1.6" ry="5.8" fill="#ffffff" opacity="0.75" transform="rotate(15 435.4 319.1)"/><ellipse cx="447.6" cy="306.8" rx="1.5" ry="5.3" fill="#ffffff" opacity="0.75" transform="rotate(-26 447.6 306.8)"/><ellipse cx="468.3" cy="190.8" rx="1.5" ry="4.2" fill="#ffffff" opacity="0.75" transform="rotate(50 468.3 190.8)"/><ellipse cx="420.5" cy="331.6" rx="0.8" ry="4.4" fill="#ffffff" opacity="0.75" transform="rotate(8 420.5 331.6)"/><ellipse cx="424.3" cy="188.8" rx="0.9" ry="3.2" fill="#ffffff" opacity="0.75" transform="rotate(41 424.3 188.8)"/><ellipse cx="463.3" cy="127.3" rx="1.3" ry="3.6" fill="#ffffff" opacity="0.75" transform="rotate(54 463.3 127.3)"/><ellipse cx="437.2" cy="177.6" rx="1.2" ry="4.5" fill="#ffffff" opacity="0.75" transform="rotate(58 437.2 177.6)"/><ellipse cx="467.0" cy="150.3" rx="0.9" ry="3.5" fill="#ffffff" opacity="0.75" transform="rotate(34 467.0 150.3)"/><ellipse cx="493.0" cy="151.6" rx="1.7" ry="3.9" fill="#ffffff" opacity="0.75" transform="rotate(17 493.0 151.6)"/><ellipse cx="453.4" cy="248.4" rx="1.6" ry="2.7" fill="#ffffff" opacity="0.75" transform="rotate(-53 453.4 248.4)"/><ellipse cx="484.0" cy="169.1" rx="1.0" ry="5.5" fill="#ffffff" opacity="0.75" transform="rotate(52 484.0 169.1)"/><ellipse cx="450.8" cy="160.3" rx="1.6" ry="5.1" fill="#ffffff" opacity="0.75" transform="rotate(-30 450.8 160.3)"/><ellipse cx="487.8" cy="117.1" rx="0.9" ry="2.1" fill="#ffffff" opacity="0.75" transform="rotate(-2 487.8 117.1)"/><ellipse cx="469.4" cy="193.8" rx="0.8" ry="5.6" fill="#ffffff" opacity="0.75" transform="rotate(29 469.4 193.8)"/><ellipse cx="476.6" cy="194.1" rx="0.9" ry="4.8" fill="#ffffff" opacity="0.75" transform="rotate(55 476.6 194.1)"/><ellipse cx="499.5" cy="244.0" rx="1.0" ry="2.7" fill="#ffffff" opacity="0.75" transform="rotate(-13 499.5 244.0)"/><ellipse cx="422.1" cy="139.5" rx="1.3" ry="5.0" fill="#ffffff" opacity="0.75" transform="rotate(-3 422.1 139.5)"/><ellipse cx="495.0" cy="139.3" rx="1.7" ry="3.1" fill="#ffffff" opacity="0.75" transform="rotate(35 495.0 139.3)"/><ellipse cx="421.8" cy="339.3" rx="0.8" ry="3.9" fill="#ffffff" opacity="0.75" transform="rotate(45 421.8 339.3)"/><ellipse cx="430.3" cy="314.0" rx="1.3" ry="4.7" fill="#ffffff" opacity="0.75" transform="rotate(36 430.3 314.0)"/><ellipse cx="433.5" cy="239.2" rx="1.7" ry="5.3" fill="#ffffff" opacity="0.75" transform="rotate(-26 433.5 239.2)"/><ellipse cx="419.0" cy="119.6" rx="1.2" ry="2.1" fill="#ffffff" opacity="0.75" transform="rotate(-5 419.0 119.6)"/><ellipse cx="441.8" cy="242.4" rx="1.6" ry="3.7" fill="#ffffff" opacity="0.75" transform="rotate(37 441.8 242.4)"/><ellipse cx="469.2" cy="108.1" rx="0.9" ry="4.1" fill="#ffffff" opacity="0.75" transform="rotate(37 469.2 108.1)"/><ellipse cx="432.8" cy="319.8" rx="1.1" ry="5.7" fill="#ffffff" opacity="0.75" transform="rotate(-20 432.8 319.8)"/><ellipse cx="493.9" cy="263.4" rx="0.8" ry="4.5" fill="#ffffff" opacity="0.75" transform="rotate(-1 493.9 263.4)"/></g>
</g>
<rect x="241.7" y="27.9" width="5.6" height="68.8" fill="#c65a12"/>
<rect x="237.4" y="29.6" width="2.0" height="67.1" fill="#cd6d2c"/>
<rect x="241.7" y="27.7" width="69" height="4.5" fill="#c65a12"/>
<rect x="247.3" y="33.9" width="63.3" height="2.0" fill="#cd6d2c"/>
<rect x="337.6" y="27.5" width="89.8" height="4.7" fill="#c65a12"/>
<rect x="337.6" y="33.9" width="81.4" height="1.9" fill="#cd6d2c"/>
<rect x="421.4" y="27.5" width="6.0" height="69.3" fill="#c65a12"/>
<rect x="417.2" y="34" width="1.9" height="62.8" fill="#cd6d2c"/>
<rect x="310.6" y="2.2" width="2.2" height="51.4" fill="#ff0000"/>
<rect x="315.0" y="2.2" width="5.8" height="51.4" fill="#ff0000"/>
<rect x="327.2" y="17.5" width="2.0" height="22.3" fill="#000"/>
<rect x="331.4" y="17.5" width="6.2" height="22.3" fill="#000"/>
<polygon points="253.0,125.9 263.5,118.5 263.5,122.1 276.6,122.1 271.2,125.9 276.6,129.7 263.5,129.7 263.5,133.3" fill="url(#garrow)" stroke="#2ee860" stroke-width="1.7" stroke-linejoin="miter"/>
<polygon points="248.2,177.4 258.7,170.0 258.7,173.6 272.7,173.6 267.3,177.4 272.7,181.2 258.7,181.2 258.7,184.8" fill="url(#garrow)" stroke="#2ee860" stroke-width="1.7" stroke-linejoin="miter"/>
<polygon points="246.6,223.4 257.1,216.0 257.1,219.6 271.2,219.6 265.8,223.4 271.2,227.2 257.1,227.2 257.1,230.8" fill="url(#garrow)" stroke="#2ee860" stroke-width="1.7" stroke-linejoin="miter"/>
<polygon points="261.1,260.6 271.6,253.2 271.6,256.8 285.3,256.8 279.9,260.6 285.3,264.4 271.6,264.4 271.6,268.0" fill="url(#garrow)" stroke="#2ee860" stroke-width="1.7" stroke-linejoin="miter"/>
<polygon points="253.4,321.3 263.9,313.9 263.9,317.5 277.6,317.5 272.2,321.3 277.6,325.1 263.9,325.1 263.9,328.7" fill="url(#garrow)" stroke="#2ee860" stroke-width="1.7" stroke-linejoin="miter"/>
<ellipse cx="255.0" cy="104.9" rx="7.4" ry="5.8" fill="url(#gion)" stroke="#0e4a26" stroke-width="0.6"/><rect x="251.4" y="103.9" width="7.6" height="2.5" fill="#e6ffe8"/><rect x="251.4" y="106.4" width="7.6" height="1.0" fill="#0c4020" opacity="0.6"/>
<ellipse cx="284.3" cy="125.7" rx="7.4" ry="5.8" fill="url(#gion)" stroke="#0e4a26" stroke-width="0.6"/><rect x="280.7" y="124.7" width="7.6" height="2.5" fill="#e6ffe8"/><rect x="280.7" y="127.2" width="7.6" height="1.0" fill="#0c4020" opacity="0.6"/>
<ellipse cx="268.3" cy="141.2" rx="7.4" ry="5.8" fill="url(#gion)" stroke="#0e4a26" stroke-width="0.6"/><rect x="264.7" y="140.2" width="7.6" height="2.5" fill="#e6ffe8"/><rect x="264.7" y="142.7" width="7.6" height="1.0" fill="#0c4020" opacity="0.6"/>
<ellipse cx="279.9" cy="177.6" rx="7.4" ry="5.8" fill="url(#gion)" stroke="#0e4a26" stroke-width="0.6"/><rect x="276.3" y="176.6" width="7.6" height="2.5" fill="#e6ffe8"/><rect x="276.3" y="179.1" width="7.6" height="1.0" fill="#0c4020" opacity="0.6"/>
<ellipse cx="278.4" cy="223.6" rx="7.4" ry="5.8" fill="url(#gion)" stroke="#0e4a26" stroke-width="0.6"/><rect x="274.8" y="222.6" width="7.6" height="2.5" fill="#e6ffe8"/><rect x="274.8" y="225.1" width="7.6" height="1.0" fill="#0c4020" opacity="0.6"/>
<ellipse cx="254.2" cy="261.9" rx="7.4" ry="5.8" fill="url(#gion)" stroke="#0e4a26" stroke-width="0.6"/><rect x="250.6" y="260.9" width="7.6" height="2.5" fill="#e6ffe8"/><rect x="250.6" y="263.4" width="7.6" height="1.0" fill="#0c4020" opacity="0.6"/>
<ellipse cx="292.7" cy="260.9" rx="7.4" ry="5.8" fill="url(#gion)" stroke="#0e4a26" stroke-width="0.6"/><rect x="289.1" y="259.9" width="7.6" height="2.5" fill="#e6ffe8"/><rect x="289.1" y="262.4" width="7.6" height="1.0" fill="#0c4020" opacity="0.6"/>
<ellipse cx="285.3" cy="321.6" rx="7.4" ry="5.8" fill="url(#gion)" stroke="#0e4a26" stroke-width="0.6"/><rect x="281.7" y="320.6" width="7.6" height="2.5" fill="#e6ffe8"/><rect x="281.7" y="323.1" width="7.6" height="1.0" fill="#0c4020" opacity="0.6"/>
<polygon points="388.9,103.7 403.3,103.7 403.3,99.6 414.3,108.3 403.3,117.0 403.3,112.9 388.9,112.9 392.9,108.3" fill="url(#barrow)" stroke="#6a3e28" stroke-width="0.5"/>
<polygon points="383.6,147.3 397.1,147.3 397.1,143.2 408.1,151.9 397.1,160.6 397.1,156.5 383.6,156.5 387.6,151.9" fill="url(#barrow)" stroke="#6a3e28" stroke-width="0.5"/>
<polygon points="380.0,209.7 394.6,209.7 394.6,205.6 405.6,214.3 394.6,223.0 394.6,218.9 380.0,218.9 384.0,214.3" fill="url(#barrow)" stroke="#6a3e28" stroke-width="0.5"/>
<polygon points="382.6,256.9 396.1,256.9 396.1,252.8 407.1,261.5 396.1,270.2 396.1,266.1 382.6,266.1 386.6,261.5" fill="url(#barrow)" stroke="#6a3e28" stroke-width="0.5"/>
<polygon points="385.5,305.7 399.2,305.7 399.2,301.6 410.2,310.3 399.2,319.0 399.2,314.9 385.5,314.9 389.5,310.3" fill="url(#barrow)" stroke="#6a3e28" stroke-width="0.5"/>
<ellipse cx="381.6" cy="108.7" rx="7.6" ry="6.4" fill="url(#bion)" stroke="#3e1e0e" stroke-width="0.5"/><rect x="378.1" y="107.8" width="7" height="1.9" fill="#4a2515"/><rect x="380.7" y="105.2" width="1.9" height="7" fill="#4a2515"/>
<ellipse cx="376.0" cy="152.5" rx="7.6" ry="6.4" fill="url(#bion)" stroke="#3e1e0e" stroke-width="0.5"/><rect x="372.5" y="151.6" width="7" height="1.9" fill="#4a2515"/><rect x="375.1" y="149.0" width="1.9" height="7" fill="#4a2515"/>
<ellipse cx="399.5" cy="169.5" rx="7.6" ry="6.4" fill="url(#bion)" stroke="#3e1e0e" stroke-width="0.5"/><rect x="396.0" y="168.6" width="7" height="1.9" fill="#4a2515"/><rect x="398.6" y="166.0" width="1.9" height="7" fill="#4a2515"/>
<ellipse cx="372.6" cy="214.5" rx="7.6" ry="6.4" fill="url(#bion)" stroke="#3e1e0e" stroke-width="0.5"/><rect x="369.1" y="213.6" width="7" height="1.9" fill="#4a2515"/><rect x="371.7" y="211.0" width="1.9" height="7" fill="#4a2515"/>
<ellipse cx="372.8" cy="243.2" rx="7.6" ry="6.4" fill="url(#bion)" stroke="#3e1e0e" stroke-width="0.5"/><rect x="369.3" y="242.2" width="7" height="1.9" fill="#4a2515"/><rect x="371.9" y="239.7" width="1.9" height="7" fill="#4a2515"/>
<ellipse cx="375.2" cy="262.1" rx="7.6" ry="6.4" fill="url(#bion)" stroke="#3e1e0e" stroke-width="0.5"/><rect x="371.7" y="261.2" width="7" height="1.9" fill="#4a2515"/><rect x="374.2" y="258.6" width="1.9" height="7" fill="#4a2515"/>
<ellipse cx="377.8" cy="311.0" rx="7.6" ry="6.4" fill="url(#bion)" stroke="#3e1e0e" stroke-width="0.5"/><rect x="374.3" y="310.1" width="7" height="1.9" fill="#4a2515"/><rect x="376.9" y="307.5" width="1.9" height="7" fill="#4a2515"/>
<ellipse cx="371.8" cy="119.6" rx="7.6" ry="6.3" fill="url(#bion2)" stroke="#3e1e0e" stroke-width="0.5"/><rect x="368.3" y="118.6" width="7" height="2.3" fill="#f2a276"/>
<ellipse cx="377.0" cy="196.0" rx="7.6" ry="6.3" fill="url(#bion2)" stroke="#3e1e0e" stroke-width="0.5"/><rect x="373.5" y="195.0" width="7" height="2.3" fill="#f2a276"/>
<ellipse cx="395.4" cy="247.0" rx="7.6" ry="6.3" fill="url(#bion2)" stroke="#3e1e0e" stroke-width="0.5"/><rect x="391.9" y="246.0" width="7" height="2.3" fill="#f2a276"/>
<text x="0" y="0" font-size="24" font-weight="bold" text-anchor="start" fill="#000" transform="translate(327.5,123.9) scale(1.180,1)">S</text>
<text x="0" y="0" font-size="24" font-weight="bold" text-anchor="start" fill="#000" transform="translate(327.5,151.0) scale(1.180,1)">e</text>
<text x="0" y="0" font-size="24" font-weight="bold" text-anchor="start" fill="#000" transform="translate(327.5,178.0) scale(1.180,1)">p</text>
<text x="0" y="0" font-size="24" font-weight="bold" text-anchor="start" fill="#000" transform="translate(327.5,205.0) scale(1.180,1)">a</text>
<text x="0" y="0" font-size="24" font-weight="bold" text-anchor="start" fill="#000" transform="translate(327.5,232.0) scale(1.180,1)">r</text>
<text x="0" y="0" font-size="24" font-weight="bold" text-anchor="start" fill="#000" transform="translate(327.5,259.0) scale(1.180,1)">at</text>
<text x="0" y="0" font-size="24" font-weight="bold" text-anchor="start" fill="#000" transform="translate(327.5,286.0) scale(1.180,1)">o</text>
<text x="0" y="0" font-size="24" font-weight="bold" text-anchor="start" fill="#000" transform="translate(327.5,313.0) scale(1.180,1)">r</text>
<text x="0" y="0" font-size="24" font-weight="bold" text-anchor="start" fill="#000" transform="translate(271.0,347.3) scale(1.165,1)">KOH gel</text>
<text x="0" y="0" font-size="26.8" font-weight="bold" fill="#ff0000" transform="translate(92.0,51.4) scale(1.06,1)">(a)</text>
<rect x="47" y="409.7" width="282.6" height="224.8" fill="none" stroke="#000" stroke-width="2.4"/>
<line x1="47" y1="620" x2="41.8" y2="620" stroke="#000" stroke-width="2.0" stroke-linecap="round"/><line x1="47" y1="592" x2="41.8" y2="592" stroke="#000" stroke-width="2.0" stroke-linecap="round"/><line x1="47" y1="564" x2="41.8" y2="564" stroke="#000" stroke-width="2.0" stroke-linecap="round"/><line x1="47" y1="536" x2="41.8" y2="536" stroke="#000" stroke-width="2.0" stroke-linecap="round"/><line x1="47" y1="508" x2="41.8" y2="508" stroke="#000" stroke-width="2.0" stroke-linecap="round"/><line x1="47" y1="480" x2="41.8" y2="480" stroke="#000" stroke-width="2.0" stroke-linecap="round"/><line x1="47" y1="452" x2="41.8" y2="452" stroke="#000" stroke-width="2.0" stroke-linecap="round"/><line x1="47" y1="424" x2="41.8" y2="424" stroke="#000" stroke-width="2.0" stroke-linecap="round"/>
<line x1="47" y1="606" x2="43.8" y2="606" stroke="#000" stroke-width="2.0" stroke-linecap="round"/><line x1="47" y1="578" x2="43.8" y2="578" stroke="#000" stroke-width="2.0" stroke-linecap="round"/><line x1="47" y1="550" x2="43.8" y2="550" stroke="#000" stroke-width="2.0" stroke-linecap="round"/><line x1="47" y1="522" x2="43.8" y2="522" stroke="#000" stroke-width="2.0" stroke-linecap="round"/><line x1="47" y1="494" x2="43.8" y2="494" stroke="#000" stroke-width="2.0" stroke-linecap="round"/><line x1="47" y1="466" x2="43.8" y2="466" stroke="#000" stroke-width="2.0" stroke-linecap="round"/><line x1="47" y1="438" x2="43.8" y2="438" stroke="#000" stroke-width="2.0" stroke-linecap="round"/>
<line x1="70.3" y1="634.5" x2="70.3" y2="639.5" stroke="#000" stroke-width="2.0" stroke-linecap="round"/><line x1="101.76" y1="634.5" x2="101.76" y2="639.5" stroke="#000" stroke-width="2.0" stroke-linecap="round"/><line x1="133.22" y1="634.5" x2="133.22" y2="639.5" stroke="#000" stroke-width="2.0" stroke-linecap="round"/><line x1="164.68" y1="634.5" x2="164.68" y2="639.5" stroke="#000" stroke-width="2.0" stroke-linecap="round"/><line x1="196.14" y1="634.5" x2="196.14" y2="639.5" stroke="#000" stroke-width="2.0" stroke-linecap="round"/><line x1="227.6" y1="634.5" x2="227.6" y2="639.5" stroke="#000" stroke-width="2.0" stroke-linecap="round"/><line x1="259.06" y1="634.5" x2="259.06" y2="639.5" stroke="#000" stroke-width="2.0" stroke-linecap="round"/><line x1="290.52" y1="634.5" x2="290.52" y2="639.5" stroke="#000" stroke-width="2.0" stroke-linecap="round"/><line x1="321.98" y1="634.5" x2="321.98" y2="639.5" stroke="#000" stroke-width="2.0" stroke-linecap="round"/>
<line x1="54.57" y1="634.5" x2="54.57" y2="637.5" stroke="#000" stroke-width="2.0" stroke-linecap="round"/><line x1="86.03" y1="634.5" x2="86.03" y2="637.5" stroke="#000" stroke-width="2.0" stroke-linecap="round"/><line x1="117.49" y1="634.5" x2="117.49" y2="637.5" stroke="#000" stroke-width="2.0" stroke-linecap="round"/><line x1="148.95" y1="634.5" x2="148.95" y2="637.5" stroke="#000" stroke-width="2.0" stroke-linecap="round"/><line x1="180.41" y1="634.5" x2="180.41" y2="637.5" stroke="#000" stroke-width="2.0" stroke-linecap="round"/><line x1="211.87" y1="634.5" x2="211.87" y2="637.5" stroke="#000" stroke-width="2.0" stroke-linecap="round"/><line x1="243.33" y1="634.5" x2="243.33" y2="637.5" stroke="#000" stroke-width="2.0" stroke-linecap="round"/><line x1="274.79" y1="634.5" x2="274.79" y2="637.5" stroke="#000" stroke-width="2.0" stroke-linecap="round"/><line x1="306.25" y1="634.5" x2="306.25" y2="637.5" stroke="#000" stroke-width="2.0" stroke-linecap="round"/>
<text x="0" y="0" font-size="12.6" font-weight="bold" text-anchor="end" fill="#000" transform="translate(38.8,623.7) scale(1.0,0.97)" >-2</text>
<text x="0" y="0" font-size="12.6" font-weight="bold" text-anchor="end" fill="#000" transform="translate(38.8,595.7) scale(1.0,0.97)" >-1</text>
<text x="0" y="0" font-size="12.6" font-weight="bold" text-anchor="end" fill="#000" transform="translate(38.8,567.7) scale(1.0,0.97)" >0</text>
<text x="0" y="0" font-size="12.6" font-weight="bold" text-anchor="end" fill="#000" transform="translate(38.8,539.7) scale(1.0,0.97)" >1</text>
<text x="0" y="0" font-size="12.6" font-weight="bold" text-anchor="end" fill="#000" transform="translate(38.8,511.7) scale(1.0,0.97)" >2</text>
<text x="0" y="0" font-size="12.6" font-weight="bold" text-anchor="end" fill="#000" transform="translate(38.8,483.7) scale(1.0,0.97)" >3</text>
<text x="0" y="0" font-size="12.6" font-weight="bold" text-anchor="end" fill="#000" transform="translate(38.8,455.7) scale(1.0,0.97)" >4</text>
<text x="0" y="0" font-size="12.6" font-weight="bold" text-anchor="end" fill="#000" transform="translate(38.8,427.7) scale(1.0,0.97)" >5</text>
<text x="0" y="0" font-size="12.6" font-weight="bold" text-anchor="middle" fill="#000" transform="translate(70.3,651.1) scale(1.0,0.97)" >0.0</text>
<text x="0" y="0" font-size="12.6" font-weight="bold" text-anchor="middle" fill="#000" transform="translate(101.76,651.1) scale(1.0,0.97)" >0.2</text>
<text x="0" y="0" font-size="12.6" font-weight="bold" text-anchor="middle" fill="#000" transform="translate(133.22,651.1) scale(1.0,0.97)" >0.4</text>
<text x="0" y="0" font-size="12.6" font-weight="bold" text-anchor="middle" fill="#000" transform="translate(164.68,651.1) scale(1.0,0.97)" >0.6</text>
<text x="0" y="0" font-size="12.6" font-weight="bold" text-anchor="middle" fill="#000" transform="translate(196.14,651.1) scale(1.0,0.97)" >0.8</text>
<text x="0" y="0" font-size="12.6" font-weight="bold" text-anchor="middle" fill="#000" transform="translate(227.6,651.1) scale(1.0,0.97)" >1.0</text>
<text x="0" y="0" font-size="12.6" font-weight="bold" text-anchor="middle" fill="#000" transform="translate(259.06,651.1) scale(1.0,0.97)" >1.2</text>
<text x="0" y="0" font-size="12.6" font-weight="bold" text-anchor="middle" fill="#000" transform="translate(290.52,651.1) scale(1.0,0.97)" >1.4</text>
<text x="0" y="0" font-size="12.6" font-weight="bold" text-anchor="middle" fill="#000" transform="translate(321.98,651.1) scale(1.0,0.97)" >1.6</text>
<text x="0" y="0" font-size="13" font-weight="bold" text-anchor="middle" fill="#000" transform="translate(184.6,668.7) scale(1.0,0.97)" >Voltage (V)</text>
<text x="0" y="0" font-size="12.8" font-weight="bold" text-anchor="middle" fill="#000" transform="translate(17.6,522.2) rotate(-90) scale(1.0,1.07)" >Current (mA)</text>
<text x="0" y="0" font-size="27" font-weight="bold" text-anchor="middle" fill="#ff0000" transform="translate(184.45,436.4) scale(1.05,1.0)" >(b)</text>
<line x1="77.5" y1="441.2" x2="104" y2="441.2" stroke="#800000" stroke-width="2.6" stroke-linecap="round"/>
<text x="0" y="0" font-size="10.7" font-weight="normal" text-anchor="start" fill="#2a2a2a" transform="translate(105.4,444.9) scale(1.0,0.97)" >0.4 V</text>
<line x1="77.5" y1="454.64" x2="104" y2="454.64" stroke="#008000" stroke-width="2.6" stroke-linecap="round"/>
<text x="0" y="0" font-size="10.7" font-weight="normal" text-anchor="start" fill="#2a2a2a" transform="translate(105.4,458.34) scale(1.0,0.97)" >0.6 V</text>
<line x1="77.5" y1="468.08" x2="104" y2="468.08" stroke="#008080" stroke-width="2.6" stroke-linecap="round"/>
<text x="0" y="0" font-size="10.7" font-weight="normal" text-anchor="start" fill="#2a2a2a" transform="translate(105.4,471.78) scale(1.0,0.97)" >0.8 V</text>
<line x1="77.5" y1="481.52" x2="104" y2="481.52" stroke="#000099" stroke-width="2.6" stroke-linecap="round"/>
<text x="0" y="0" font-size="10.7" font-weight="normal" text-anchor="start" fill="#2a2a2a" transform="translate(105.4,485.22) scale(1.0,0.97)" >1.0 V</text>
<line x1="77.5" y1="494.96" x2="104" y2="494.96" stroke="#ff7f00" stroke-width="2.6" stroke-linecap="round"/>
<text x="0" y="0" font-size="10.7" font-weight="normal" text-anchor="start" fill="#2a2a2a" transform="translate(105.4,498.66) scale(1.0,0.97)" >1.2 V</text>
<line x1="77.5" y1="508.4" x2="104" y2="508.4" stroke="#7f00ff" stroke-width="2.6" stroke-linecap="round"/>
<text x="0" y="0" font-size="10.7" font-weight="normal" text-anchor="start" fill="#2a2a2a" transform="translate(105.4,512.1) scale(1.0,0.97)" >1.5 V</text>
<path d="M70.3,587.8 L70.34,587.03 L70.39,585.94 L70.45,584.67 L70.53,583.31 L70.63,581.98 L70.77,580.8 L70.93,579.75 L71.09,578.74 L71.28,577.75 L71.52,576.8 L71.81,575.85 L72.19,574.92 L72.64,573.98 L73.15,573.03 L73.73,572.1 L74.37,571.21 L75.06,570.37 L75.81,569.6 L76.49,568.95 L77.1,568.42 L77.77,567.94 L78.63,567.45 L79.82,566.91 L81.47,566.24 L83.65,565.41 L86.28,564.45 L89.23,563.42 L92.4,562.4 L95.67,561.45 L98.93,560.64 L102.35,559.95 L106.05,559.34 L109.85,558.8 L113.57,558.32 L117.02,557.91 L120.01,557.56 L122.57,557.26 L124.85,557.02 L126.87,556.83 L128.62,556.73 L130.1,556.71 L131.33,556.79 L132.23,556.96 L132.77,557.22 L133.04,557.57 L133.15,558 L133.18,558.52 L133.22,559.13 L133.26,559.89 L133.23,560.83 L133.12,561.85 L132.93,562.87 L132.65,563.8 L132.28,564.56 L131.86,565.1 L131.43,565.47 L130.9,565.76 L130.23,566.03 L129.34,566.35 L128.19,566.8 L126.75,567.37 L125.09,568.01 L123.21,568.71 L121.15,569.44 L118.92,570.21 L116.55,571 L113.95,571.82 L111.11,572.68 L108.1,573.57 L105.01,574.48 L101.92,575.4 L98.93,576.32 L95.91,577.25 L92.79,578.22 L89.68,579.19 L86.68,580.15 L83.9,581.06 L81.47,581.92 L79.36,582.73 L77.5,583.52 L75.85,584.26 L74.43,584.96 L73.21,585.58 L72.19,586.12 L71.42,586.57 L70.94,586.93 L70.66,587.22 L70.52,587.46 L70.42,587.65 L70.3,587.8" fill="none" stroke="#800000" stroke-width="2.5" stroke-linejoin="round" stroke-linecap="round" />
<path d="M70.3,587.8 L70.34,587.03 L70.39,585.94 L70.45,584.67 L70.53,583.31 L70.63,581.98 L70.77,580.8 L70.93,579.75 L71.09,578.74 L71.28,577.75 L71.52,576.8 L71.81,575.85 L72.19,574.92 L72.64,573.98 L73.15,573.03 L73.73,572.1 L74.37,571.21 L75.06,570.37 L75.81,569.6 L76.49,568.95 L77.1,568.42 L77.77,567.94 L78.63,567.45 L79.82,566.91 L81.47,566.24 L83.65,565.41 L86.28,564.45 L89.23,563.42 L92.4,562.4 L95.67,561.45 L98.93,560.64 L102.2,559.97 L105.58,559.4 L109.05,558.89 L112.63,558.43 L116.28,558 L120.01,557.56 L123.91,557.13 L128.01,556.72 L132.19,556.33 L136.34,555.97 L140.34,555.63 L144.07,555.32 L147.7,555 L151.33,554.66 L154.82,554.34 L158,554.09 L160.71,553.95 L162.79,553.94 L164.12,554.1 L164.78,554.38 L164.98,554.76 L164.91,555.23 L164.74,555.75 L164.68,556.3 L164.7,556.93 L164.63,557.67 L164.48,558.48 L164.24,559.27 L163.89,560.01 L163.42,560.64 L162.91,561.12 L162.37,561.48 L161.72,561.79 L160.89,562.09 L159.81,562.43 L158.39,562.88 L156.65,563.42 L154.67,564.02 L152.42,564.66 L149.91,565.35 L147.13,566.06 L144.07,566.8 L140.59,567.57 L136.66,568.39 L132.46,569.23 L128.17,570.1 L123.96,570.97 L120.01,571.84 L116.28,572.71 L112.63,573.59 L109.05,574.48 L105.58,575.38 L102.2,576.27 L98.93,577.16 L95.71,578.06 L92.54,578.99 L89.46,579.91 L86.55,580.81 L83.86,581.67 L81.47,582.48 L79.36,583.24 L77.5,583.97 L75.85,584.67 L74.43,585.31 L73.21,585.89 L72.19,586.4 L71.42,586.83 L70.94,587.19 L70.66,587.48 L70.52,587.73 L70.42,587.92 L70.3,588.08" fill="none" stroke="#008000" stroke-width="2.5" stroke-linejoin="round" stroke-linecap="round" />
<path d="M70.3,587.8 L70.34,587.03 L70.39,585.94 L70.45,584.67 L70.53,583.31 L70.63,581.98 L70.77,580.8 L70.93,579.75 L71.09,578.74 L71.28,577.75 L71.52,576.8 L71.81,575.85 L72.19,574.92 L72.64,573.98 L73.15,573.03 L73.73,572.1 L74.37,571.21 L75.06,570.37 L75.81,569.6 L76.49,568.95 L77.1,568.42 L77.77,567.94 L78.63,567.45 L79.82,566.91 L81.47,566.24 L83.65,565.41 L86.28,564.45 L89.23,563.42 L92.4,562.4 L95.67,561.45 L98.93,560.64 L102.2,559.97 L105.58,559.4 L109.05,558.89 L112.63,558.43 L116.28,558 L120.01,557.56 L123.79,557.14 L127.64,556.76 L131.58,556.41 L135.61,556.06 L139.77,555.7 L144.07,555.32 L148.64,554.9 L153.49,554.46 L158.46,554.02 L163.39,553.58 L168.14,553.17 L172.55,552.8 L176.78,552.44 L181.02,552.07 L185.06,551.73 L188.74,551.46 L191.86,551.29 L194.25,551.28 L195.75,551.45 L196.47,551.79 L196.63,552.24 L196.48,552.74 L196.24,553.22 L196.14,553.64 L196.17,553.97 L196.15,554.26 L196.04,554.54 L195.81,554.84 L195.44,555.18 L194.88,555.6 L194.09,556.13 L193.09,556.74 L191.93,557.4 L190.7,558.07 L189.46,558.69 L188.28,559.24 L187.36,559.65 L186.7,559.95 L186.03,560.2 L185.09,560.49 L183.62,560.9 L181.35,561.48 L178.22,562.29 L174.41,563.26 L170.07,564.35 L165.33,565.48 L160.34,566.6 L155.24,567.64 L149.73,568.62 L143.65,569.58 L137.31,570.53 L131.04,571.46 L125.17,572.36 L120.01,573.24 L115.65,574.08 L111.84,574.88 L108.43,575.65 L105.24,576.42 L102.13,577.2 L98.93,578 L95.57,578.84 L92.17,579.72 L88.84,580.61 L85.69,581.47 L82.83,582.29 L80.37,583.04 L78.33,583.71 L76.64,584.34 L75.24,584.91 L74.06,585.45 L73.07,585.94 L72.19,586.4 L71.49,586.83 L71.02,587.23 L70.73,587.59 L70.56,587.9 L70.43,588.16 L70.3,588.36" fill="none" stroke="#008080" stroke-width="2.5" stroke-linejoin="round" stroke-linecap="round" />
<path d="M70.3,587.8 L70.34,587.03 L70.39,585.94 L70.45,584.67 L70.53,583.31 L70.63,581.98 L70.77,580.8 L70.93,579.75 L71.09,578.74 L71.28,577.75 L71.52,576.8 L71.81,575.85 L72.19,574.92 L72.64,573.98 L73.15,573.03 L73.73,572.1 L74.37,571.21 L75.06,570.37 L75.81,569.6 L76.49,568.95 L77.1,568.42 L77.77,567.94 L78.63,567.45 L79.82,566.91 L81.47,566.24 L83.65,565.41 L86.28,564.45 L89.23,563.42 L92.4,562.4 L95.67,561.45 L98.93,560.64 L102.2,559.97 L105.58,559.4 L109.05,558.89 L112.63,558.43 L116.28,558 L120.01,557.56 L123.79,557.14 L127.64,556.76 L131.58,556.41 L135.61,556.06 L139.77,555.7 L144.07,555.32 L148.62,554.91 L153.42,554.48 L158.34,554.04 L163.25,553.61 L168.03,553.19 L172.55,552.8 L176.76,552.44 L180.77,552.11 L184.65,551.78 L188.46,551.47 L192.26,551.16 L196.14,550.84 L200.28,550.5 L204.66,550.14 L209.04,549.78 L213.18,549.43 L216.82,549.13 L219.74,548.88 L221.8,548.67 L223.18,548.47 L224.08,548.31 L224.68,548.21 L225.16,548.18 L225.71,548.26 L226.3,548.48 L226.76,548.84 L227.11,549.28 L227.36,549.74 L227.51,550.17 L227.6,550.5 L227.63,550.69 L227.61,550.8 L227.5,550.88 L227.27,550.97 L226.9,551.12 L226.34,551.4 L225.61,551.81 L224.74,552.31 L223.72,552.87 L222.54,553.49 L221.22,554.12 L219.74,554.76 L218.3,555.36 L216.96,555.93 L215.46,556.53 L213.57,557.2 L211.03,557.99 L207.62,558.96 L203.03,560.2 L197.39,561.69 L191.11,563.3 L184.6,564.91 L178.27,566.4 L172.55,567.64 L167.37,568.6 L162.4,569.36 L157.62,570 L152.99,570.59 L148.49,571.18 L144.07,571.84 L139.77,572.58 L135.61,573.34 L131.58,574.12 L127.64,574.88 L123.79,575.62 L120.01,576.32 L116.35,576.95 L112.84,577.52 L109.42,578.07 L106.01,578.63 L102.53,579.25 L98.93,579.96 L94.97,580.81 L90.67,581.77 L86.31,582.79 L82.16,583.81 L78.52,584.75 L75.65,585.56 L73.66,586.25 L72.34,586.89 L71.52,587.45 L71.02,587.93 L70.67,588.33 L70.3,588.64" fill="none" stroke="#000099" stroke-width="2.6" stroke-linejoin="round" stroke-linecap="round" />
<path d="M70.3,592.56 L70.33,591.74 L70.35,590.6 L70.38,589.25 L70.45,587.8 L70.57,586.35 L70.77,585 L71.01,583.75 L71.25,582.5 L71.55,581.26 L71.95,580 L72.52,578.73 L73.29,577.44 L74.22,576.1 L75.25,574.72 L76.44,573.33 L77.84,571.94 L79.5,570.6 L81.47,569.32 L83.8,568.08 L86.47,566.84 L89.39,565.64 L92.5,564.52 L95.7,563.49 L98.93,562.6 L102.2,561.86 L105.58,561.26 L109.05,560.76 L112.63,560.33 L116.28,559.93 L120.01,559.52 L123.79,559.14 L127.64,558.81 L131.58,558.52 L135.61,558.23 L139.77,557.92 L144.07,557.56 L148.62,557.14 L153.42,556.68 L158.34,556.19 L163.25,555.7 L168.03,555.22 L172.55,554.76 L176.67,554.34 L180.48,553.94 L184.16,553.55 L187.87,553.15 L191.81,552.72 L196.14,552.24 L201.11,551.69 L206.63,551.07 L212.36,550.42 L217.99,549.77 L223.18,549.15 L227.6,548.6 L231.19,548.12 L234.18,547.69 L236.74,547.29 L239.02,546.9 L241.16,546.5 L243.33,546.08 L245.49,545.63 L247.53,545.16 L249.44,544.68 L251.21,544.2 L252.84,543.73 L254.34,543.28 L255.73,542.78 L257.03,542.21 L258.19,541.65 L259.17,541.17 L259.95,540.85 L260.48,540.76 L260.71,540.94 L260.69,541.33 L260.45,541.88 L260.06,542.52 L259.57,543.2 L259.06,543.84 L258.5,544.48 L257.85,545.18 L257.1,545.9 L256.27,546.64 L255.35,547.36 L254.34,548.04 L253.2,548.69 L251.9,549.33 L250.52,549.95 L249.11,550.55 L247.74,551.13 L246.48,551.68 L245.39,552.17 L244.44,552.6 L243.54,553.01 L242.57,553.43 L241.43,553.91 L240.03,554.48 L238.39,555.15 L236.61,555.88 L234.66,556.67 L232.52,557.5 L230.18,558.36 L227.6,559.24 L224.88,560.15 L222.06,561.09 L219.03,562.06 L215.68,563.06 L211.91,564.08 L207.62,565.12 L202.57,566.23 L196.8,567.42 L190.61,568.64 L184.31,569.82 L178.18,570.9 L172.55,571.84 L167.37,572.59 L162.4,573.21 L157.62,573.73 L152.99,574.2 L148.49,574.68 L144.07,575.2 L139.77,575.76 L135.61,576.33 L131.58,576.9 L127.64,577.46 L123.79,578.02 L120.01,578.56 L116.28,579.08 L112.63,579.57 L109.05,580.05 L105.58,580.54 L102.2,581.07 L98.93,581.64 L95.7,582.28 L92.49,582.99 L89.38,583.72 L86.46,584.46 L83.79,585.18 L81.47,585.84 L79.53,586.45 L77.91,587.02 L76.56,587.57 L75.41,588.11 L74.39,588.65 L73.45,589.2 L72.6,589.8 L71.92,590.44 L71.37,591.09 L70.94,591.69 L70.59,592.19 L70.3,592.56" fill="none" stroke="#ff7f00" stroke-width="2.7" stroke-linejoin="round" stroke-linecap="round" />
<path d="M70.3,613.28 L70.36,612.32 L70.45,610.97 L70.56,609.38 L70.67,607.69 L70.8,606.05 L70.93,604.6 L71.06,603.32 L71.2,602.09 L71.35,600.91 L71.51,599.77 L71.68,598.67 L71.87,597.6 L72.06,596.59 L72.24,595.65 L72.43,594.75 L72.66,593.86 L72.94,592.95 L73.29,592 L73.71,590.99 L74.19,589.95 L74.72,588.88 L75.3,587.83 L75.93,586.81 L76.59,585.84 L77.23,584.98 L77.84,584.23 L78.5,583.51 L79.27,582.75 L80.24,581.87 L81.47,580.8 L82.97,579.46 L84.68,577.91 L86.58,576.23 L88.66,574.55 L90.89,572.95 L93.27,571.56 L95.66,570.4 L98.08,569.41 L100.65,568.51 L103.52,567.64 L106.83,566.72 L110.73,565.68 L115.42,564.48 L120.85,563.16 L126.71,561.79 L132.73,560.45 L138.61,559.2 L144.07,558.12 L149.11,557.22 L153.97,556.46 L158.68,555.79 L163.32,555.17 L167.92,554.56 L172.55,553.92 L177.17,553.25 L181.74,552.59 L186.28,551.94 L190.81,551.3 L195.35,550.65 L199.92,550 L204.69,549.34 L209.69,548.66 L214.69,547.99 L219.49,547.32 L223.87,546.68 L227.6,546.08 L230.57,545.51 L232.92,544.98 L234.85,544.47 L236.54,543.97 L238.21,543.49 L240.03,543 L241.97,542.51 L243.87,542.04 L245.74,541.57 L247.58,541.1 L249.39,540.65 L251.19,540.2 L253.05,539.77 L254.96,539.36 L256.85,538.96 L258.63,538.55 L260.24,538.13 L261.58,537.68 L262.6,537.28 L263.35,536.94 L263.92,536.6 L264.38,536.15 L264.84,535.51 L265.35,534.6 L265.91,533.45 L266.45,532.14 L266.96,530.64 L267.47,528.94 L267.98,527 L268.5,524.8 L269.02,522.22 L269.55,519.25 L270.07,516.05 L270.6,512.77 L271.12,509.57 L271.64,506.6 L272.18,503.79 L272.73,500.99 L273.29,498.27 L273.82,495.69 L274.33,493.31 L274.79,491.2 L275.16,489.49 L275.45,488.17 L275.71,487.05 L276,485.95 L276.35,484.69 L276.83,483.08 L277.47,481.04 L278.23,478.7 L279.06,476.2 L279.92,473.67 L280.76,471.25 L281.55,469.08 L282.28,467.17 L282.97,465.42 L283.65,463.78 L284.33,462.19 L285.04,460.62 L285.8,459 L286.58,457.34 L287.36,455.67 L288.16,454.01 L289.02,452.37 L289.95,450.77 L290.99,449.2 L292.17,447.66 L293.47,446.12 L294.86,444.62 L296.27,443.16 L297.67,441.79 L299.01,440.52 L300.41,439.14 L301.91,437.6 L303.4,436.13 L304.75,434.98 L305.85,434.4 L306.56,434.64 L306.83,435.78 L306.74,437.65 L306.39,440.08 L305.88,442.93 L305.33,446.02 L304.83,449.2 L304.37,452.6 L303.85,456.39 L303.28,460.42 L302.67,464.57 L302.03,468.71 L301.37,472.72 L300.66,476.72 L299.88,480.83 L299.07,484.94 L298.27,488.91 L297.5,492.62 L296.81,495.96 L296.21,498.87 L295.68,501.45 L295.18,503.77 L294.7,505.91 L294.2,507.94 L293.67,509.96 L293.12,511.86 L292.58,513.57 L292.02,515.17 L291.43,516.77 L290.78,518.46 L290.05,520.32 L289.19,522.41 L288.23,524.65 L287.21,526.99 L286.17,529.33 L285.16,531.61 L284.23,533.76 L283.41,535.8 L282.69,537.78 L282,539.71 L281.27,541.56 L280.46,543.31 L279.51,544.96 L278.38,546.48 L277.13,547.87 L275.78,549.18 L274.39,550.41 L273,551.61 L271.64,552.8 L270.28,553.96 L268.85,555.06 L267.43,556.12 L266.05,557.17 L264.76,558.2 L263.62,559.24 L262.65,560.28 L261.81,561.31 L261.07,562.34 L260.38,563.36 L259.73,564.38 L259.06,565.4 L258.42,566.42 L257.84,567.44 L257.28,568.46 L256.72,569.49 L256.12,570.52 L255.44,571.56 L254.69,572.64 L253.87,573.75 L253.02,574.87 L252.15,575.97 L251.27,577.02 L250.41,578 L249.59,578.9 L248.8,579.73 L248.01,580.52 L247.18,581.28 L246.26,582.02 L245.22,582.76 L244.04,583.52 L242.76,584.28 L241.39,585.03 L239.97,585.75 L238.51,586.4 L237.04,586.96 L235.49,587.45 L233.82,587.87 L232.11,588.24 L230.45,588.54 L228.92,588.77 L227.6,588.92 L226.51,588.98 L225.6,588.94 L224.81,588.83 L224.1,588.68 L223.42,588.51 L222.72,588.36 L222.01,588.2 L221.33,588 L220.68,587.78 L220.06,587.57 L219.48,587.38 L218.95,587.24 L218.5,587.13 L218.14,587.05 L217.83,587 L217.5,586.96 L217.1,586.95 L216.59,586.96 L216.02,587 L215.46,587.08 L214.83,587.19 L214.07,587.3 L213.1,587.42 L211.87,587.52 L210.47,587.59 L208.99,587.63 L207.31,587.68 L205.31,587.75 L202.88,587.87 L199.92,588.08 L196.29,588.37 L192.06,588.72 L187.41,589.13 L182.5,589.58 L177.49,590.08 L172.55,590.6 L167.53,591.17 L162.28,591.78 L156.93,592.44 L151.63,593.12 L146.51,593.82 L141.71,594.52 L137.21,595.24 L132.86,596 L128.71,596.78 L124.75,597.55 L121,598.3 L117.49,599 L114.24,599.66 L111.24,600.31 L108.46,600.92 L105.84,601.52 L103.36,602.09 L100.97,602.64 L98.7,603.15 L96.58,603.61 L94.59,604.06 L92.71,604.5 L90.91,604.95 L89.18,605.44 L87.51,605.97 L85.95,606.54 L84.47,607.12 L83.05,607.7 L81.69,608.27 L80.37,608.8 L79.06,609.31 L77.78,609.82 L76.55,610.3 L75.4,610.77 L74.36,611.2 L73.45,611.6 L72.67,611.96 L72,612.31 L71.44,612.62 L70.98,612.89 L70.6,613.11 L70.3,613.28" fill="none" stroke="#7f00ff" stroke-width="2.9" stroke-linejoin="round" stroke-linecap="round" />
<rect x="394.2" y="405.7" width="283.1" height="224.3" fill="none" stroke="#000" stroke-width="2.4"/>
<line x1="394.2" y1="617.52" x2="389.2" y2="617.52" stroke="#000" stroke-width="2.0" stroke-linecap="round"/><line x1="394.2" y1="592.6" x2="389.2" y2="592.6" stroke="#000" stroke-width="2.0" stroke-linecap="round"/><line x1="394.2" y1="567.68" x2="389.2" y2="567.68" stroke="#000" stroke-width="2.0" stroke-linecap="round"/><line x1="394.2" y1="542.76" x2="389.2" y2="542.76" stroke="#000" stroke-width="2.0" stroke-linecap="round"/><line x1="394.2" y1="517.84" x2="389.2" y2="517.84" stroke="#000" stroke-width="2.0" stroke-linecap="round"/><line x1="394.2" y1="492.92" x2="389.2" y2="492.92" stroke="#000" stroke-width="2.0" stroke-linecap="round"/><line x1="394.2" y1="468" x2="389.2" y2="468" stroke="#000" stroke-width="2.0" stroke-linecap="round"/><line x1="394.2" y1="443.08" x2="389.2" y2="443.08" stroke="#000" stroke-width="2.0" stroke-linecap="round"/><line x1="394.2" y1="418.16" x2="389.2" y2="418.16" stroke="#000" stroke-width="2.0" stroke-linecap="round"/>
<line x1="394.2" y1="605.06" x2="391.2" y2="605.06" stroke="#000" stroke-width="2.0" stroke-linecap="round"/><line x1="394.2" y1="580.14" x2="391.2" y2="580.14" stroke="#000" stroke-width="2.0" stroke-linecap="round"/><line x1="394.2" y1="555.22" x2="391.2" y2="555.22" stroke="#000" stroke-width="2.0" stroke-linecap="round"/><line x1="394.2" y1="530.3" x2="391.2" y2="530.3" stroke="#000" stroke-width="2.0" stroke-linecap="round"/><line x1="394.2" y1="505.38" x2="391.2" y2="505.38" stroke="#000" stroke-width="2.0" stroke-linecap="round"/><line x1="394.2" y1="480.46" x2="391.2" y2="480.46" stroke="#000" stroke-width="2.0" stroke-linecap="round"/><line x1="394.2" y1="455.54" x2="391.2" y2="455.54" stroke="#000" stroke-width="2.0" stroke-linecap="round"/><line x1="394.2" y1="430.62" x2="391.2" y2="430.62" stroke="#000" stroke-width="2.0" stroke-linecap="round"/>
<line x1="394.2" y1="630" x2="394.2" y2="635" stroke="#000" stroke-width="2.0" stroke-linecap="round"/><line x1="424" y1="630" x2="424" y2="635" stroke="#000" stroke-width="2.0" stroke-linecap="round"/><line x1="453.8" y1="630" x2="453.8" y2="635" stroke="#000" stroke-width="2.0" stroke-linecap="round"/><line x1="483.6" y1="630" x2="483.6" y2="635" stroke="#000" stroke-width="2.0" stroke-linecap="round"/><line x1="513.4" y1="630" x2="513.4" y2="635" stroke="#000" stroke-width="2.0" stroke-linecap="round"/><line x1="543.2" y1="630" x2="543.2" y2="635" stroke="#000" stroke-width="2.0" stroke-linecap="round"/><line x1="573" y1="630" x2="573" y2="635" stroke="#000" stroke-width="2.0" stroke-linecap="round"/><line x1="602.8" y1="630" x2="602.8" y2="635" stroke="#000" stroke-width="2.0" stroke-linecap="round"/><line x1="632.6" y1="630" x2="632.6" y2="635" stroke="#000" stroke-width="2.0" stroke-linecap="round"/><line x1="662.4" y1="630" x2="662.4" y2="635" stroke="#000" stroke-width="2.0" stroke-linecap="round"/>
<line x1="409.1" y1="630" x2="409.1" y2="633" stroke="#000" stroke-width="2.0" stroke-linecap="round"/><line x1="438.9" y1="630" x2="438.9" y2="633" stroke="#000" stroke-width="2.0" stroke-linecap="round"/><line x1="468.7" y1="630" x2="468.7" y2="633" stroke="#000" stroke-width="2.0" stroke-linecap="round"/><line x1="498.5" y1="630" x2="498.5" y2="633" stroke="#000" stroke-width="2.0" stroke-linecap="round"/><line x1="528.3" y1="630" x2="528.3" y2="633" stroke="#000" stroke-width="2.0" stroke-linecap="round"/><line x1="558.1" y1="630" x2="558.1" y2="633" stroke="#000" stroke-width="2.0" stroke-linecap="round"/><line x1="587.9" y1="630" x2="587.9" y2="633" stroke="#000" stroke-width="2.0" stroke-linecap="round"/><line x1="617.7" y1="630" x2="617.7" y2="633" stroke="#000" stroke-width="2.0" stroke-linecap="round"/><line x1="647.5" y1="630" x2="647.5" y2="633" stroke="#000" stroke-width="2.0" stroke-linecap="round"/>
<text x="0" y="0" font-size="12.6" font-weight="bold" text-anchor="end" fill="#000" transform="translate(386.2,621.22) scale(1.0,0.97)" >-6</text>
<text x="0" y="0" font-size="12.6" font-weight="bold" text-anchor="end" fill="#000" transform="translate(386.2,596.3) scale(1.0,0.97)" >-4</text>
<text x="0" y="0" font-size="12.6" font-weight="bold" text-anchor="end" fill="#000" transform="translate(386.2,571.38) scale(1.0,0.97)" >-2</text>
<text x="0" y="0" font-size="12.6" font-weight="bold" text-anchor="end" fill="#000" transform="translate(386.2,546.46) scale(1.0,0.97)" >0</text>
<text x="0" y="0" font-size="12.6" font-weight="bold" text-anchor="end" fill="#000" transform="translate(386.2,521.54) scale(1.0,0.97)" >2</text>
<text x="0" y="0" font-size="12.6" font-weight="bold" text-anchor="end" fill="#000" transform="translate(386.2,496.62) scale(1.0,0.97)" >4</text>
<text x="0" y="0" font-size="12.6" font-weight="bold" text-anchor="end" fill="#000" transform="translate(386.2,471.7) scale(1.0,0.97)" >6</text>
<text x="0" y="0" font-size="12.6" font-weight="bold" text-anchor="end" fill="#000" transform="translate(386.2,446.78) scale(1.0,0.97)" >8</text>
<text x="0" y="0" font-size="12.6" font-weight="bold" text-anchor="end" fill="#000" transform="translate(386.2,421.86) scale(1.0,0.97)" >10</text>
<text x="0" y="0" font-size="12.6" font-weight="bold" text-anchor="middle" fill="#000" transform="translate(394.2,647.4) scale(1.0,0.97)" >-0.2</text>
<text x="0" y="0" font-size="12.6" font-weight="bold" text-anchor="middle" fill="#000" transform="translate(424,647.4) scale(1.0,0.97)" >0.0</text>
<text x="0" y="0" font-size="12.6" font-weight="bold" text-anchor="middle" fill="#000" transform="translate(453.8,647.4) scale(1.0,0.97)" >0.2</text>
<text x="0" y="0" font-size="12.6" font-weight="bold" text-anchor="middle" fill="#000" transform="translate(483.6,647.4) scale(1.0,0.97)" >0.4</text>
<text x="0" y="0" font-size="12.6" font-weight="bold" text-anchor="middle" fill="#000" transform="translate(513.4,647.4) scale(1.0,0.97)" >0.6</text>
<text x="0" y="0" font-size="12.6" font-weight="bold" text-anchor="middle" fill="#000" transform="translate(543.2,647.4) scale(1.0,0.97)" >0.8</text>
<text x="0" y="0" font-size="12.6" font-weight="bold" text-anchor="middle" fill="#000" transform="translate(573,647.4) scale(1.0,0.97)" >1.0</text>
<text x="0" y="0" font-size="12.6" font-weight="bold" text-anchor="middle" fill="#000" transform="translate(602.8,647.4) scale(1.0,0.97)" >1.2</text>
<text x="0" y="0" font-size="12.6" font-weight="bold" text-anchor="middle" fill="#000" transform="translate(632.6,647.4) scale(1.0,0.97)" >1.4</text>
<text x="0" y="0" font-size="12.6" font-weight="bold" text-anchor="middle" fill="#000" transform="translate(662.4,647.4) scale(1.0,0.97)" >1.6</text>
<text x="0" y="0" font-size="13" font-weight="bold" text-anchor="middle" fill="#000" transform="translate(553,664.5) scale(1.0,0.97)" >Voltage (V)</text>
<text x="0" y="0" font-size="12.7" font-weight="bold" text-anchor="middle" fill="#000" transform="translate(366.9,510.8) rotate(-90) scale(1.0,1.07)" >Current (mA)</text>
<text x="0" y="0" font-size="26.5" font-weight="bold" text-anchor="middle" fill="#ff0000" transform="translate(601.2,436.5) scale(1.05,1.0)" >(c)</text>
<path d="M424,543.38 L424.3,543.38 L424.75,543.38 L425.49,543.38 L426.24,543.37 L426.98,543.37 L428.47,543.36 L429.96,543.36 L431.45,543.35 L433.69,543.34 L435.92,543.33 L438.9,543.32 L441.88,543.31 L446.35,543.29 L450.82,543.27 L456.78,543.25 L464.23,543.21 L473.17,543.18 L483.6,543.13 L498.5,543.07 L513.4,543.01 L528.3,542.95 L543.2,542.88 L558.1,542.82 L573,542.74 L587.9,542.56 L599.82,542.32 L605.78,542.17 L608.76,542.09 L611.74,542 L614.72,540.43 L617.7,537.72 L620.68,534.68 L623.66,531.4 L626.64,527.94 L629.62,524.33 L632.6,520.6 L635.58,516.74 L638.56,512.79 L641.54,508.74 L644.52,504.61 L647.5,500.4 L646.75,502.23 L646.01,504.02 L644.52,507.47 L643.03,510.73 L641.54,513.81 L640.05,516.7 L638.56,519.4 L635.58,524.25 L632.6,528.36 L629.62,531.73 L626.64,534.37 L623.66,536.26 L620.68,537.43 L617.7,537.87 L614.72,537.96 L611.74,538.08 L608.76,538.25 L605.78,538.47 L602.8,538.76 L599.82,539.12 L596.84,539.55 L593.86,540.04 L590.88,540.58 L587.9,541.13 L584.92,541.67 L581.94,542.16 L578.96,542.59 L575.98,542.95 L573,543.23 L570.02,543.45 L567.04,543.63 L564.06,543.8 L562.57,543.89 L561.08,543.96 L559.59,543.97 L558.1,543.95 L555.12,543.95 L550.65,543.99 L543.2,544.02 L528.3,544.03 L513.4,544 L498.5,543.97 L483.6,543.91 L468.7,543.84 L456.78,543.76 L446.35,543.67 L438.9,543.59 L432.94,543.51 L428.47,543.45 L425.49,543.41 L424,543.38" fill="none" stroke="#000000" stroke-width="1.6" stroke-linejoin="round" stroke-linecap="round" />
<path d="M424,549.74 L424.3,549.4 L424.75,549 L425.49,548.5 L426.24,548.15 L426.98,547.89 L428.47,547.53 L429.96,547.26 L431.45,547.04 L433.69,546.76 L435.92,546.51 L438.9,546.22 L441.88,545.97 L446.35,545.66 L450.82,545.41 L456.78,545.15 L464.23,544.91 L473.17,544.71 L483.6,544.54 L498.5,544.39 L513.4,544.29 L528.3,544.21 L543.2,544.14 L558.1,544.07 L573,543.99 L587.9,543.8 L599.82,543.56 L605.78,543.42 L608.76,543.33 L611.74,543.25 L614.72,542.13 L617.7,540.24 L620.68,538.1 L623.66,535.81 L626.64,533.39 L629.62,530.86 L632.6,528.25 L635.58,525.55 L638.56,522.78 L641.54,519.95 L644.52,517.05 L647.5,514.1 L646.75,515.3 L646.01,516.43 L644.52,518.6 L643.03,520.66 L641.54,522.6 L640.05,524.42 L638.56,526.13 L635.58,529.19 L632.6,531.79 L629.62,533.93 L626.64,535.6 L623.66,536.82 L620.68,537.58 L617.7,537.9 L614.72,538 L611.74,538.15 L608.76,538.35 L605.78,538.6 L602.8,538.93 L599.82,539.34 L596.84,539.83 L593.86,540.39 L590.88,541.01 L587.9,541.64 L584.92,542.26 L581.94,542.82 L578.96,543.32 L575.98,543.73 L573,544.07 L570.02,544.33 L567.04,544.54 L564.06,544.77 L562.57,544.9 L561.08,544.99 L559.59,545 L558.1,544.98 L555.12,544.97 L550.65,545.05 L543.2,545.15 L528.3,545.31 L513.4,545.5 L498.5,545.76 L483.6,546.13 L468.7,546.64 L456.78,547.19 L446.35,547.81 L438.9,548.35 L432.94,548.85 L428.47,549.27 L425.49,549.58 L424,549.74" fill="none" stroke="#ff0000" stroke-width="1.6" stroke-linejoin="round" stroke-linecap="round" />
<path d="M424,551.48 L424.3,550.86 L424.75,550.09 L425.49,549.16 L426.24,548.5 L426.98,548.02 L428.47,547.34 L429.96,546.85 L431.45,546.45 L433.69,545.93 L435.92,545.47 L438.9,544.94 L441.88,544.48 L446.35,543.91 L450.82,543.46 L456.78,542.99 L464.23,542.56 L473.17,542.21 L483.6,541.95 L498.5,541.72 L513.4,541.58 L528.3,541.48 L543.2,541.4 L558.1,541.33 L573,541.25 L587.9,541.06 L599.82,540.82 L605.78,540.67 L608.76,540.59 L611.74,540.5 L614.72,539.42 L617.7,537.58 L620.68,535.52 L623.66,533.29 L626.64,530.94 L629.62,528.49 L632.6,525.96 L635.58,523.34 L638.56,520.66 L641.54,517.91 L644.52,515.1 L647.5,512.23 L646.75,513.51 L646.01,514.73 L644.52,517.06 L643.03,519.27 L641.54,521.35 L640.05,523.31 L638.56,525.14 L635.58,528.43 L632.6,531.22 L629.62,533.51 L626.64,535.32 L623.66,536.63 L620.68,537.45 L617.7,537.8 L614.72,537.94 L611.74,538.12 L608.76,538.36 L605.78,538.67 L602.8,539.08 L599.82,539.59 L596.84,540.2 L593.86,540.89 L590.88,541.66 L587.9,542.44 L584.92,543.2 L581.94,543.91 L578.96,544.52 L575.98,545.03 L573,545.44 L570.02,545.76 L567.04,546.03 L564.06,546.35 L562.57,546.55 L561.08,546.68 L559.59,546.67 L558.1,546.6 L555.12,546.55 L550.65,546.64 L543.2,546.75 L528.3,546.92 L513.4,547.12 L498.5,547.39 L483.6,547.77 L468.7,548.3 L456.78,548.86 L446.35,549.5 L438.9,550.05 L432.94,550.57 L428.47,551 L425.49,551.32 L424,551.48" fill="none" stroke="#22ee22" stroke-width="1.6" stroke-linejoin="round" stroke-linecap="round" />
<path d="M424,555.84 L424.3,554.85 L424.75,553.64 L425.49,552.17 L426.24,551.13 L426.98,550.37 L428.47,549.3 L429.96,548.52 L431.45,547.88 L433.69,547.06 L435.92,546.34 L438.9,545.51 L441.88,544.79 L446.35,543.9 L450.82,543.19 L456.78,542.46 L464.23,541.81 L473.17,541.28 L483.6,540.88 L498.5,540.56 L513.4,540.37 L528.3,540.25 L543.2,540.17 L558.1,540.09 L573,540.01 L587.9,539.82 L599.82,539.58 L605.78,539.43 L608.76,539.35 L611.74,539.26 L614.72,538.06 L617.7,536.02 L620.68,533.72 L623.66,531.25 L626.64,528.65 L629.62,525.93 L632.6,523.11 L635.58,520.2 L638.56,517.22 L641.54,514.17 L644.52,511.05 L647.5,507.87 L646.75,509.37 L646.01,510.79 L644.52,513.51 L643.03,516.08 L641.54,518.51 L640.05,520.79 L638.56,522.93 L635.58,526.77 L632.6,530.02 L629.62,532.7 L626.64,534.8 L623.66,536.34 L620.68,537.31 L617.7,537.72 L614.72,537.89 L611.74,538.11 L608.76,538.41 L605.78,538.8 L602.8,539.3 L599.82,539.93 L596.84,540.68 L593.86,541.54 L590.88,542.48 L587.9,543.45 L584.92,544.4 L581.94,545.27 L578.96,546.02 L575.98,546.66 L573,547.17 L570.02,547.57 L567.04,547.9 L564.06,548.34 L562.57,548.62 L561.08,548.8 L559.59,548.78 L558.1,548.66 L555.12,548.56 L550.65,548.67 L543.2,548.82 L528.3,549.07 L513.4,549.36 L498.5,549.77 L483.6,550.33 L468.7,551.11 L456.78,551.95 L446.35,552.9 L438.9,553.72 L432.94,554.49 L428.47,555.13 L425.49,555.6 L424,555.84" fill="none" stroke="#1a1aff" stroke-width="1.6" stroke-linejoin="round" stroke-linecap="round" />
<path d="M424,561.08 L424.3,559.67 L424.75,557.96 L425.49,555.87 L426.24,554.4 L426.98,553.32 L428.47,551.8 L429.96,550.71 L431.45,549.8 L433.69,548.64 L435.92,547.63 L438.9,546.45 L441.88,545.44 L446.35,544.19 L450.82,543.19 L456.78,542.16 L464.23,541.24 L473.17,540.51 L483.6,539.97 L498.5,539.53 L513.4,539.3 L528.3,539.15 L543.2,539.05 L558.1,538.97 L573,538.89 L587.9,538.7 L599.82,538.46 L605.78,538.31 L608.76,538.23 L611.74,538.14 L614.72,536.43 L617.7,533.49 L620.68,530.18 L623.66,526.62 L626.64,522.86 L629.62,518.94 L632.6,514.88 L635.58,510.69 L638.56,506.39 L641.54,501.99 L644.52,497.5 L647.5,492.92 L646.75,495.15 L646.01,497.26 L644.52,501.33 L643.03,505.18 L641.54,508.81 L640.05,512.22 L638.56,515.41 L635.58,521.14 L632.6,526.01 L629.62,530.01 L626.64,533.14 L623.66,535.43 L620.68,536.87 L617.7,537.48 L614.72,537.71 L611.74,538.03 L608.76,538.45 L605.78,539 L602.8,539.71 L599.82,540.59 L596.84,541.66 L593.86,542.88 L590.88,544.21 L587.9,545.58 L584.92,546.91 L581.94,548.14 L578.96,549.21 L575.98,550.1 L573,550.82 L570.02,551.39 L567.04,551.85 L564.06,552.54 L562.57,553 L561.08,553.28 L559.59,553.22 L558.1,552.98 L555.12,552.77 L550.65,552.9 L543.2,553.09 L528.3,553.39 L513.4,553.73 L498.5,554.18 L483.6,554.82 L468.7,555.7 L456.78,556.66 L446.35,557.73 L438.9,558.67 L432.94,559.54 L428.47,560.27 L425.49,560.8 L424,561.08" fill="none" stroke="#00ffff" stroke-width="1.6" stroke-linejoin="round" stroke-linecap="round" />
<path d="M424,568.93 L424.3,566.96 L424.75,564.56 L425.49,561.63 L426.24,559.58 L426.98,558.07 L428.47,555.94 L429.96,554.41 L431.45,553.14 L433.69,551.51 L435.92,550.08 L438.9,548.43 L441.88,547.01 L446.35,545.24 L450.82,543.83 L456.78,542.38 L464.23,541.08 L473.17,540.03 L483.6,539.25 L498.5,538.6 L513.4,538.23 L528.3,538 L543.2,537.82 L558.1,537.67 L573,537.51 L587.9,537.13 L599.82,536.65 L605.78,536.35 L608.76,536.18 L611.74,536.01 L614.72,533.72 L617.7,529.82 L620.68,525.44 L623.66,520.72 L626.64,515.75 L629.62,510.56 L632.6,505.18 L635.58,499.64 L638.56,493.95 L641.54,488.12 L644.52,482.17 L647.5,476.1 L646.75,479.16 L646.01,482.07 L644.52,487.65 L643.03,492.94 L641.54,497.92 L640.05,502.61 L638.56,506.99 L635.58,514.87 L632.6,521.55 L629.62,527.04 L626.64,531.34 L623.66,534.48 L620.68,536.45 L617.7,537.27 L614.72,537.58 L611.74,537.98 L608.76,538.53 L605.78,539.25 L602.8,540.17 L599.82,541.32 L596.84,542.7 L593.86,544.28 L590.88,546.01 L587.9,547.79 L584.92,549.52 L581.94,551.11 L578.96,552.49 L575.98,553.65 L573,554.59 L570.02,555.32 L567.04,555.93 L564.06,556.87 L562.57,557.52 L561.08,557.91 L559.59,557.81 L558.1,557.45 L555.12,557.14 L550.65,557.31 L543.2,557.57 L528.3,557.98 L513.4,558.46 L498.5,559.11 L483.6,560.02 L468.7,561.28 L456.78,562.64 L446.35,564.17 L438.9,565.5 L432.94,566.73 L428.47,567.77 L425.49,568.53 L424,568.93" fill="none" stroke="#ff22ff" stroke-width="1.6" stroke-linejoin="round" stroke-linecap="round" />
<path d="M424,574.16 L424.3,571.76 L424.75,568.83 L425.49,565.24 L426.24,562.73 L426.98,560.89 L428.47,558.29 L429.96,556.41 L431.45,554.86 L433.69,552.87 L435.92,551.13 L438.9,549.12 L441.88,547.39 L446.35,545.23 L450.82,543.52 L456.78,541.76 L464.23,540.18 L473.17,538.91 L483.6,537.97 L498.5,537.21 L513.4,536.79 L528.3,536.52 L543.2,536.34 L558.1,536.18 L573,536.01 L587.9,535.63 L599.82,535.15 L605.78,534.85 L608.76,534.69 L611.74,534.51 L614.72,531.8 L617.7,527.15 L620.68,521.92 L623.66,516.28 L626.64,510.34 L629.62,504.15 L632.6,497.73 L635.58,491.11 L638.56,484.32 L641.54,477.36 L644.52,470.26 L647.5,463.02 L646.75,466.73 L646.01,470.25 L644.52,477.02 L643.03,483.42 L641.54,489.47 L640.05,495.15 L638.56,500.46 L635.58,510 L632.6,518.1 L629.62,524.75 L626.64,529.97 L623.66,533.76 L620.68,536.14 L617.7,537.13 L614.72,537.48 L611.74,537.95 L608.76,538.58 L605.78,539.41 L602.8,540.48 L599.82,541.81 L596.84,543.41 L593.86,545.24 L590.88,547.24 L587.9,549.3 L584.92,551.3 L581.94,553.15 L578.96,554.75 L575.98,556.1 L573,557.18 L570.02,558.03 L567.04,558.74 L564.06,559.85 L562.57,560.63 L561.08,561.09 L559.59,560.96 L558.1,560.52 L555.12,560.14 L550.65,560.34 L543.2,560.64 L528.3,561.13 L513.4,561.7 L498.5,562.47 L483.6,563.55 L468.7,565.05 L456.78,566.67 L446.35,568.49 L438.9,570.08 L432.94,571.55 L428.47,572.79 L425.49,573.69 L424,574.16" fill="none" stroke="#ffff00" stroke-width="1.6" stroke-linejoin="round" stroke-linecap="round" />
<path d="M424,581.14 L424.3,578.19 L424.75,574.6 L425.49,570.2 L426.24,567.13 L426.98,564.86 L428.47,561.68 L429.96,559.38 L431.45,557.49 L433.69,555.05 L435.92,552.92 L438.9,550.45 L441.88,548.34 L446.35,545.71 L450.82,543.61 L456.78,541.46 L464.23,539.54 L473.17,538 L483.6,536.87 L498.5,535.96 L513.4,535.47 L528.3,535.18 L543.2,534.98 L558.1,534.82 L573,534.64 L587.9,534.26 L599.82,533.78 L605.78,533.48 L608.76,533.32 L611.74,533.14 L614.72,530.11 L617.7,524.9 L620.68,519.04 L623.66,512.73 L626.64,506.07 L629.62,499.13 L632.6,491.93 L635.58,484.52 L638.56,476.91 L641.54,469.12 L644.52,461.16 L647.5,453.05 L646.75,457.28 L646.01,461.27 L644.52,468.95 L643.03,476.21 L641.54,483.06 L640.05,489.5 L638.56,495.53 L635.58,506.34 L632.6,515.52 L629.62,523.06 L626.64,528.98 L623.66,533.27 L620.68,535.97 L617.7,537.08 L614.72,537.46 L611.74,537.98 L608.76,538.67 L605.78,539.58 L602.8,540.75 L599.82,542.21 L596.84,543.95 L593.86,545.96 L590.88,548.14 L587.9,550.39 L584.92,552.58 L581.94,554.6 L578.96,556.36 L575.98,557.83 L573,559.02 L570.02,559.95 L567.04,560.74 L564.06,561.98 L562.57,562.84 L561.08,563.36 L559.59,563.22 L558.1,562.73 L555.12,562.31 L550.65,562.55 L543.2,562.92 L528.3,563.55 L513.4,564.32 L498.5,565.36 L483.6,566.82 L468.7,568.84 L456.78,571.03 L446.35,573.49 L438.9,575.62 L432.94,577.61 L428.47,579.29 L425.49,580.5 L424,581.14" fill="none" stroke="#808000" stroke-width="1.6" stroke-linejoin="round" stroke-linecap="round" />
<path d="M424,591.73 L424.3,587.88 L424.75,583.19 L425.49,577.45 L426.24,573.44 L426.98,570.49 L428.47,566.33 L429.96,563.33 L431.45,560.87 L433.69,557.69 L435.92,554.92 L438.9,551.7 L441.88,548.94 L446.35,545.52 L450.82,542.8 L456.78,540 L464.23,537.51 L473.17,535.52 L483.6,534.07 L498.5,532.93 L513.4,532.33 L528.3,531.98 L543.2,531.76 L558.1,531.59 L573,531.41 L587.9,531.03 L599.82,530.54 L605.78,530.24 L608.76,530.08 L611.74,529.9 L614.72,526.54 L617.7,520.73 L620.68,514.19 L623.66,507.15 L626.64,499.72 L629.62,491.98 L632.6,483.95 L635.58,475.69 L638.56,467.2 L641.54,458.51 L644.52,449.63 L647.5,440.59 L646.75,445.47 L646.01,450.05 L644.52,458.85 L643.03,467.19 L641.54,475.04 L640.05,482.43 L638.56,489.34 L635.58,501.75 L632.6,512.28 L629.62,520.93 L626.64,527.71 L623.66,532.64 L620.68,535.73 L617.7,537 L614.72,537.44 L611.74,538.03 L608.76,538.81 L605.78,539.84 L602.8,541.16 L599.82,542.81 L596.84,544.78 L593.86,547.05 L590.88,549.52 L587.9,552.06 L584.92,554.53 L581.94,556.81 L578.96,558.8 L575.98,560.47 L573,561.82 L570.02,562.89 L567.04,563.79 L564.06,565.22 L562.57,566.22 L561.08,566.82 L559.59,566.66 L558.1,566.1 L555.12,565.62 L550.65,565.92 L543.2,566.39 L528.3,567.25 L513.4,568.31 L498.5,569.76 L483.6,571.79 L468.7,574.61 L456.78,577.65 L446.35,581.07 L438.9,584.05 L432.94,586.82 L428.47,589.15 L425.49,590.84 L424,591.73" fill="none" stroke="#000080" stroke-width="1.6" stroke-linejoin="round" stroke-linecap="round" />
<path d="M424,601.32 L424.3,596.68 L424.75,591.02 L425.49,584.1 L426.24,579.26 L426.98,575.7 L428.47,570.69 L429.96,567.07 L431.45,564.09 L433.69,560.26 L435.92,556.92 L438.9,553.04 L441.88,549.72 L446.35,545.6 L450.82,542.32 L456.78,538.96 L464.23,535.97 L473.17,533.58 L483.6,531.85 L498.5,530.49 L513.4,529.8 L528.3,529.41 L543.2,529.16 L558.1,528.98 L573,528.8 L587.9,528.41 L599.82,527.93 L605.78,527.63 L608.76,527.46 L611.74,527.29 L614.72,523.92 L617.7,518.12 L620.68,511.59 L623.66,504.57 L626.64,497.15 L629.62,489.41 L632.6,481.4 L635.58,473.14 L638.56,464.67 L641.54,455.99 L644.52,447.13 L647.5,438.1 L646.75,443.14 L646.01,447.83 L644.52,456.85 L643.03,465.38 L641.54,473.43 L640.05,481 L638.56,488.08 L635.58,500.8 L632.6,511.58 L629.62,520.45 L626.64,527.41 L623.66,532.46 L620.68,535.65 L617.7,536.97 L614.72,537.45 L611.74,538.09 L608.76,538.95 L605.78,540.06 L602.8,541.5 L599.82,543.28 L596.84,545.42 L593.86,547.87 L590.88,550.54 L587.9,553.3 L584.92,555.98 L581.94,558.45 L578.96,560.61 L575.98,562.42 L573,563.89 L570.02,565.06 L567.04,566.04 L564.06,567.61 L562.57,568.72 L561.08,569.38 L559.59,569.2 L558.1,568.6 L555.12,568.09 L550.65,568.43 L543.2,569 L528.3,570.08 L513.4,571.42 L498.5,573.28 L483.6,575.86 L468.7,579.47 L456.78,583.36 L446.35,587.72 L438.9,591.52 L432.94,595.06 L428.47,598.03 L425.49,600.19 L424,601.32" fill="none" stroke="#800080" stroke-width="1.6" stroke-linejoin="round" stroke-linecap="round" />
<path d="M424,606.56 L424.3,601.4 L424.75,595.1 L425.49,587.41 L426.24,582.02 L426.98,578.06 L428.47,572.5 L429.96,568.47 L431.45,565.17 L433.69,560.91 L435.92,557.2 L438.9,552.89 L441.88,549.2 L446.35,544.62 L450.82,540.98 L456.78,537.25 L464.23,533.92 L473.17,531.28 L483.6,529.37 L498.5,527.87 L513.4,527.11 L528.3,526.69 L543.2,526.43 L558.1,526.24 L573,526.06 L587.9,525.67 L599.82,525.19 L605.78,524.89 L608.76,524.72 L611.74,524.55 L614.72,520.92 L617.7,514.65 L620.68,507.59 L623.66,499.99 L626.64,491.97 L629.62,483.61 L632.6,474.94 L635.58,466.02 L638.56,456.85 L641.54,447.47 L644.52,437.89 L647.5,428.13 L646.75,433.69 L646.01,438.85 L644.52,448.78 L643.03,458.18 L641.54,467.04 L640.05,475.37 L638.56,483.16 L635.58,497.16 L632.6,509.04 L629.62,518.79 L626.64,526.45 L623.66,532.01 L620.68,535.5 L617.7,536.94 L614.72,537.45 L611.74,538.12 L608.76,539.02 L605.78,540.19 L602.8,541.69 L599.82,543.56 L596.84,545.8 L593.86,548.37 L590.88,551.18 L587.9,554.06 L584.92,556.88 L581.94,559.46 L578.96,561.73 L575.98,563.63 L573,565.18 L570.02,566.41 L567.04,567.45 L564.06,569.1 L562.57,570.27 L561.08,570.97 L559.59,570.79 L558.1,570.15 L555.12,569.61 L550.65,569.99 L543.2,570.61 L528.3,571.8 L513.4,573.29 L498.5,575.36 L483.6,578.23 L468.7,582.24 L456.78,586.57 L446.35,591.42 L438.9,595.65 L432.94,599.58 L428.47,602.9 L425.49,605.29 L424,606.56" fill="none" stroke="#800000" stroke-width="1.6" stroke-linejoin="round" stroke-linecap="round" />
<line x1="414.5" y1="426.6" x2="439.3" y2="426.6" stroke="#000000" stroke-width="1.8"/>
<text x="0" y="0" font-size="10.5" font-weight="bold" text-anchor="start" fill="#262626" transform="translate(442.2,429.9) scale(1.0,0.97)" >2 mV/s</text>
<line x1="490.6" y1="426.6" x2="515" y2="426.6" stroke="#ff0000" stroke-width="1.8"/>
<text x="0" y="0" font-size="10.5" font-weight="bold" text-anchor="start" fill="#262626" transform="translate(518,429.9) scale(1.0,0.97)" >5 mV/s</text>
<line x1="414.5" y1="439.96" x2="439.3" y2="439.96" stroke="#22ee22" stroke-width="1.8"/>
<text x="0" y="0" font-size="10.5" font-weight="bold" text-anchor="start" fill="#262626" transform="translate(442.2,443.26) scale(1.0,0.97)" >10 mV/s</text>
<line x1="492.4" y1="439.96" x2="518" y2="439.96" stroke="#1a1aff" stroke-width="1.8"/>
<text x="0" y="0" font-size="10.5" font-weight="bold" text-anchor="start" fill="#262626" transform="translate(520.4,443.26) scale(1.0,0.97)" >20 mV/s</text>
<line x1="414.5" y1="453.32" x2="439.3" y2="453.32" stroke="#00ffff" stroke-width="1.8"/>
<text x="0" y="0" font-size="10.5" font-weight="bold" text-anchor="start" fill="#262626" transform="translate(442.2,456.62) scale(1.0,0.97)" >50 mV/s</text>
<line x1="492.4" y1="453.32" x2="518" y2="453.32" stroke="#ff22ff" stroke-width="1.8"/>
<text x="0" y="0" font-size="10.5" font-weight="bold" text-anchor="start" fill="#262626" transform="translate(521.2,456.62) scale(1.0,0.97)" >100 mV/s</text>
<line x1="414.5" y1="466.68" x2="439.3" y2="466.68" stroke="#ffff00" stroke-width="1.8"/>
<text x="0" y="0" font-size="10.5" font-weight="bold" text-anchor="start" fill="#262626" transform="translate(442.2,469.98) scale(1.0,0.97)" >150 mV/s</text>
<line x1="494.8" y1="466.68" x2="520.4" y2="466.68" stroke="#808000" stroke-width="1.8"/>
<text x="0" y="0" font-size="10.5" font-weight="bold" text-anchor="start" fill="#262626" transform="translate(523,469.98) scale(1.0,0.97)" >200 mV/s</text>
<line x1="414.5" y1="480.04" x2="439.3" y2="480.04" stroke="#000080" stroke-width="1.8"/>
<text x="0" y="0" font-size="10.5" font-weight="bold" text-anchor="start" fill="#262626" transform="translate(442.2,483.34) scale(1.0,0.97)" >300 mV/s</text>
<line x1="494.8" y1="480.04" x2="520.4" y2="480.04" stroke="#800080" stroke-width="1.8"/>
<text x="0" y="0" font-size="10.5" font-weight="bold" text-anchor="start" fill="#262626" transform="translate(523,483.34) scale(1.0,0.97)" >400 mV/s</text>
<line x1="414.5" y1="493.4" x2="439.3" y2="493.4" stroke="#800000" stroke-width="1.8"/>
<text x="0" y="0" font-size="10.5" font-weight="bold" text-anchor="start" fill="#262626" transform="translate(442.2,496.7) scale(1.0,0.97)" >500 mV/s</text>
<rect x="42.8" y="712" width="280.8" height="219.8" fill="none" stroke="#000" stroke-width="2.4"/>
<line x1="42.8" y1="931.8" x2="37.8" y2="931.8" stroke="#000" stroke-width="2.0" stroke-linecap="round"/><line x1="42.8" y1="904.32" x2="37.8" y2="904.32" stroke="#000" stroke-width="2.0" stroke-linecap="round"/><line x1="42.8" y1="876.84" x2="37.8" y2="876.84" stroke="#000" stroke-width="2.0" stroke-linecap="round"/><line x1="42.8" y1="849.36" x2="37.8" y2="849.36" stroke="#000" stroke-width="2.0" stroke-linecap="round"/><line x1="42.8" y1="821.88" x2="37.8" y2="821.88" stroke="#000" stroke-width="2.0" stroke-linecap="round"/><line x1="42.8" y1="794.4" x2="37.8" y2="794.4" stroke="#000" stroke-width="2.0" stroke-linecap="round"/><line x1="42.8" y1="766.92" x2="37.8" y2="766.92" stroke="#000" stroke-width="2.0" stroke-linecap="round"/><line x1="42.8" y1="739.44" x2="37.8" y2="739.44" stroke="#000" stroke-width="2.0" stroke-linecap="round"/><line x1="42.8" y1="711.96" x2="37.8" y2="711.96" stroke="#000" stroke-width="2.0" stroke-linecap="round"/>
<line x1="42.8" y1="918.06" x2="39.8" y2="918.06" stroke="#000" stroke-width="2.0" stroke-linecap="round"/><line x1="42.8" y1="890.58" x2="39.8" y2="890.58" stroke="#000" stroke-width="2.0" stroke-linecap="round"/><line x1="42.8" y1="863.1" x2="39.8" y2="863.1" stroke="#000" stroke-width="2.0" stroke-linecap="round"/><line x1="42.8" y1="835.62" x2="39.8" y2="835.62" stroke="#000" stroke-width="2.0" stroke-linecap="round"/><line x1="42.8" y1="808.14" x2="39.8" y2="808.14" stroke="#000" stroke-width="2.0" stroke-linecap="round"/><line x1="42.8" y1="780.66" x2="39.8" y2="780.66" stroke="#000" stroke-width="2.0" stroke-linecap="round"/><line x1="42.8" y1="753.18" x2="39.8" y2="753.18" stroke="#000" stroke-width="2.0" stroke-linecap="round"/><line x1="42.8" y1="725.7" x2="39.8" y2="725.7" stroke="#000" stroke-width="2.0" stroke-linecap="round"/>
<line x1="42.8" y1="931.8" x2="42.8" y2="936.8" stroke="#000" stroke-width="2.0" stroke-linecap="round"/><line x1="89.6" y1="931.8" x2="89.6" y2="936.8" stroke="#000" stroke-width="2.0" stroke-linecap="round"/><line x1="136.4" y1="931.8" x2="136.4" y2="936.8" stroke="#000" stroke-width="2.0" stroke-linecap="round"/><line x1="183.2" y1="931.8" x2="183.2" y2="936.8" stroke="#000" stroke-width="2.0" stroke-linecap="round"/><line x1="230" y1="931.8" x2="230" y2="936.8" stroke="#000" stroke-width="2.0" stroke-linecap="round"/><line x1="276.8" y1="931.8" x2="276.8" y2="936.8" stroke="#000" stroke-width="2.0" stroke-linecap="round"/><line x1="323.6" y1="931.8" x2="323.6" y2="936.8" stroke="#000" stroke-width="2.0" stroke-linecap="round"/>
<line x1="66.2" y1="931.8" x2="66.2" y2="934.8" stroke="#000" stroke-width="2.0" stroke-linecap="round"/><line x1="113" y1="931.8" x2="113" y2="934.8" stroke="#000" stroke-width="2.0" stroke-linecap="round"/><line x1="159.8" y1="931.8" x2="159.8" y2="934.8" stroke="#000" stroke-width="2.0" stroke-linecap="round"/><line x1="206.6" y1="931.8" x2="206.6" y2="934.8" stroke="#000" stroke-width="2.0" stroke-linecap="round"/><line x1="253.4" y1="931.8" x2="253.4" y2="934.8" stroke="#000" stroke-width="2.0" stroke-linecap="round"/><line x1="300.2" y1="931.8" x2="300.2" y2="934.8" stroke="#000" stroke-width="2.0" stroke-linecap="round"/>
<text x="0" y="0" font-size="12.6" font-weight="bold" text-anchor="end" fill="#000" transform="translate(34.6,936.2) scale(1.0,0.97)" >0.0</text>
<text x="0" y="0" font-size="12.6" font-weight="bold" text-anchor="end" fill="#000" transform="translate(34.6,908.72) scale(1.0,0.97)" >0.2</text>
<text x="0" y="0" font-size="12.6" font-weight="bold" text-anchor="end" fill="#000" transform="translate(34.6,881.24) scale(1.0,0.97)" >0.4</text>
<text x="0" y="0" font-size="12.6" font-weight="bold" text-anchor="end" fill="#000" transform="translate(34.6,853.76) scale(1.0,0.97)" >0.6</text>
<text x="0" y="0" font-size="12.6" font-weight="bold" text-anchor="end" fill="#000" transform="translate(34.6,826.28) scale(1.0,0.97)" >0.8</text>
<text x="0" y="0" font-size="12.6" font-weight="bold" text-anchor="end" fill="#000" transform="translate(34.6,798.8) scale(1.0,0.97)" >1.0</text>
<text x="0" y="0" font-size="12.6" font-weight="bold" text-anchor="end" fill="#000" transform="translate(34.6,771.32) scale(1.0,0.97)" >1.2</text>
<text x="0" y="0" font-size="12.6" font-weight="bold" text-anchor="end" fill="#000" transform="translate(34.6,743.84) scale(1.0,0.97)" >1.4</text>
<text x="0" y="0" font-size="12.6" font-weight="bold" text-anchor="end" fill="#000" transform="translate(34.6,716.36) scale(1.0,0.97)" >1.6</text>
<text x="0" y="0" font-size="12.6" font-weight="bold" text-anchor="middle" fill="#000" transform="translate(42.8,948.8) scale(1.0,0.97)" >0</text>
<text x="0" y="0" font-size="12.6" font-weight="bold" text-anchor="middle" fill="#000" transform="translate(89.6,948.8) scale(1.0,0.97)" >20</text>
<text x="0" y="0" font-size="12.6" font-weight="bold" text-anchor="middle" fill="#000" transform="translate(136.4,948.8) scale(1.0,0.97)" >40</text>
<text x="0" y="0" font-size="12.6" font-weight="bold" text-anchor="middle" fill="#000" transform="translate(183.2,948.8) scale(1.0,0.97)" >60</text>
<text x="0" y="0" font-size="12.6" font-weight="bold" text-anchor="middle" fill="#000" transform="translate(230,948.8) scale(1.0,0.97)" >80</text>
<text x="0" y="0" font-size="12.6" font-weight="bold" text-anchor="middle" fill="#000" transform="translate(276.8,948.8) scale(1.0,0.97)" >100</text>
<text x="0" y="0" font-size="12.6" font-weight="bold" text-anchor="middle" fill="#000" transform="translate(323.6,948.8) scale(1.0,0.97)" >120</text>
<text x="0" y="0" font-size="12.7" font-weight="bold" text-anchor="middle" fill="#000" transform="translate(176.2,965.2) scale(1.0,0.97)" >Time (s)</text>
<text x="0" y="0" font-size="12.3" font-weight="bold" text-anchor="middle" fill="#000" transform="translate(10.3,820.3) rotate(-90) scale(1.0,1.07)" >Potential (V)</text>
<text x="0" y="0" font-size="26.3" font-weight="bold" text-anchor="middle" fill="#ff0000" transform="translate(221.3,740.2) scale(1.07,1.0)" >(d)</text>
<path d="M42.8,931.8 L48.18,863.1 L51.46,794.4 L55.2,777.91 L56.37,767.19 L56.63,767.11 L57,766.97 L57.46,766.88 L58.01,766.92 L58.66,767.2 L59.41,767.63 L60.23,768.06 L61.05,768.29 L61.9,768.29 L62.78,768.13 L63.67,767.89 L64.56,767.61 L65.35,767.35 L66.07,767.06 L66.91,766.67 L68.07,766.1 L69.58,765.31 L71.33,764.34 L73.33,763.26 L75.56,762.11 L78.09,760.86 L80.91,759.48 L83.86,758.09 L86.79,756.75 L89.68,755.51 L92.61,754.3 L95.56,753.11 L98.49,751.94 L101.42,750.8 L104.34,749.68 L107.27,748.56 L110.19,747.41 L113.12,746.22 L116.06,745 L118.98,743.79 L121.89,742.6 L124.77,741.43 L127.62,740.26 L130.48,739.14 L133.36,738.07 L136.27,737.07 L139.19,736.13 L142.13,735.23 L145.06,734.36 L147.98,733.51 L150.91,732.71 L153.83,731.93 L156.76,731.2 L159.68,730.5 L162.61,729.83 L165.53,729.2 L168.46,728.59 L171.45,727.98 L174.48,727.4 L177.43,726.86 L180.16,726.39 L182.79,725.98 L185.34,725.63 L187.52,725.35 L189.05,725.15 L189.07,727.73 L189.1,731.44 L189.14,735.57 L189.17,739.44 L189.19,743.04 L189.21,746.69 L189.24,750.14 L189.28,753.18 L189.29,755.56 L189.28,757.47 L189.36,759.3 L189.63,761.42 L190.07,763.93 L190.62,766.63 L191.41,769.47 L192.56,772.42 L194.17,775.44 L196.17,778.57 L198.34,781.85 L200.52,785.33 L202.67,789.03 L204.89,792.91 L207.15,796.96 L209.41,801.13 L211.62,805.42 L213.82,809.84 L216.1,814.41 L218.53,819.13 L221.19,824.08 L224.02,829.23 L226.91,834.45 L229.77,839.6 L232.52,844.67 L235.24,849.7 L238.03,854.74 L241,859.8 L244.17,864.9 L247.49,870.02 L250.96,875.15 L254.57,880.27 L258.38,885.45 L262.38,890.67 L266.45,895.8 L270.48,900.75 L274.51,905.54 L278.58,910.21 L282.58,914.65 L286.39,918.75 L290.27,922.66 L294.17,926.4 L297.58,929.57 L299.97,931.8" fill="none" stroke="#800000" stroke-width="2.7" stroke-linejoin="round" stroke-linecap="round" />
<path d="M42.8,931.8 L52.86,725.7 L53.21,725.01 L53.56,744.94 L54.97,805.39 L59.18,876.84 L63.16,931.8" fill="none" stroke="#008080" stroke-width="2.7" stroke-linejoin="round" stroke-linecap="round" />
<path d="M42.8,931.8 L48.88,794.4 L50.29,760.05 L69.48,725.01 L69.59,753.18 L69.94,765.55 L72.4,787.53 L75.79,814.6 L80.47,846.61 L84.92,878.35 L90.54,909.95 L94.51,931.8" fill="none" stroke="#008000" stroke-width="2.7" stroke-linejoin="round" stroke-linecap="round" />
<path d="M42.8,931.8 L48.18,725.7 L48.65,725.01 L49.23,794.4 L50.76,863.1 L52.39,931.8" fill="none" stroke="#000099" stroke-width="2.7" stroke-linejoin="round" stroke-linecap="round" />
<path d="M42.8,931.8 L45.61,725.7 L45.96,725.01 L46.54,794.4 L47.95,931.8" fill="none" stroke="#ff7f00" stroke-width="2.0" stroke-linejoin="round" stroke-linecap="round" />
<path d="M43.03,931.8 L44.2,725.7 L44.55,725.01 L45.49,931.8" fill="none" stroke="#7f00ff" stroke-width="3.0" stroke-linejoin="round" stroke-linecap="round" />
<line x1="252.5" y1="738" x2="278" y2="738" stroke="#800000" stroke-width="2.6" stroke-linecap="round"/>
<text x="0" y="0" font-size="11.2" font-weight="normal" text-anchor="start" fill="#2a2a2a" transform="translate(279,741.8) scale(1.0,0.97)" >1 A/g</text>
<line x1="252.5" y1="751.12" x2="278" y2="751.12" stroke="#008000" stroke-width="2.6" stroke-linecap="round"/>
<text x="0" y="0" font-size="11.2" font-weight="normal" text-anchor="start" fill="#2a2a2a" transform="translate(279,754.92) scale(1.0,0.97)" >2 A/g</text>
<line x1="252.5" y1="764.24" x2="278" y2="764.24" stroke="#008080" stroke-width="2.6" stroke-linecap="round"/>
<text x="0" y="0" font-size="11.2" font-weight="normal" text-anchor="start" fill="#2a2a2a" transform="translate(279,768.04) scale(1.0,0.97)" >3 A/g</text>
<line x1="252.5" y1="777.36" x2="278" y2="777.36" stroke="#000099" stroke-width="2.6" stroke-linecap="round"/>
<text x="0" y="0" font-size="11.2" font-weight="normal" text-anchor="start" fill="#2a2a2a" transform="translate(279,781.16) scale(1.0,0.97)" >4 A/g</text>
<line x1="252.5" y1="790.48" x2="278" y2="790.48" stroke="#ff7f00" stroke-width="2.6" stroke-linecap="round"/>
<text x="0" y="0" font-size="11.2" font-weight="normal" text-anchor="start" fill="#2a2a2a" transform="translate(279,794.28) scale(1.0,0.97)" >6 A/g</text>
<line x1="252.5" y1="803.6" x2="278" y2="803.6" stroke="#7f00ff" stroke-width="2.6" stroke-linecap="round"/>
<text x="0" y="0" font-size="11.2" font-weight="normal" text-anchor="start" fill="#2a2a2a" transform="translate(279,807.4) scale(1.0,0.97)" >8 A/g</text>
<rect x="406.1" y="712.6" width="275.3" height="217.9" fill="none" stroke="#000" stroke-width="2.4"/>
<line x1="406.1" y1="930.5" x2="401.1" y2="930.5" stroke="#000" stroke-width="2.0" stroke-linecap="round"/><line x1="406.1" y1="868.27" x2="401.1" y2="868.27" stroke="#000" stroke-width="2.0" stroke-linecap="round"/><line x1="406.1" y1="806.04" x2="401.1" y2="806.04" stroke="#000" stroke-width="2.0" stroke-linecap="round"/><line x1="406.1" y1="743.81" x2="401.1" y2="743.81" stroke="#000" stroke-width="2.0" stroke-linecap="round"/>
<line x1="406.1" y1="899.38" x2="403.1" y2="899.38" stroke="#000" stroke-width="2.0" stroke-linecap="round"/><line x1="406.1" y1="837.15" x2="403.1" y2="837.15" stroke="#000" stroke-width="2.0" stroke-linecap="round"/><line x1="406.1" y1="774.92" x2="403.1" y2="774.92" stroke="#000" stroke-width="2.0" stroke-linecap="round"/><line x1="406.1" y1="712.69" x2="403.1" y2="712.69" stroke="#000" stroke-width="2.0" stroke-linecap="round"/>
<line x1="406.1" y1="930.5" x2="406.1" y2="935.5" stroke="#000" stroke-width="2.0" stroke-linecap="round"/><line x1="435.1" y1="930.5" x2="435.1" y2="935.5" stroke="#000" stroke-width="2.0" stroke-linecap="round"/><line x1="464.1" y1="930.5" x2="464.1" y2="935.5" stroke="#000" stroke-width="2.0" stroke-linecap="round"/><line x1="493.1" y1="930.5" x2="493.1" y2="935.5" stroke="#000" stroke-width="2.0" stroke-linecap="round"/><line x1="522.1" y1="930.5" x2="522.1" y2="935.5" stroke="#000" stroke-width="2.0" stroke-linecap="round"/><line x1="551.1" y1="930.5" x2="551.1" y2="935.5" stroke="#000" stroke-width="2.0" stroke-linecap="round"/><line x1="580.1" y1="930.5" x2="580.1" y2="935.5" stroke="#000" stroke-width="2.0" stroke-linecap="round"/><line x1="609.1" y1="930.5" x2="609.1" y2="935.5" stroke="#000" stroke-width="2.0" stroke-linecap="round"/><line x1="638.1" y1="930.5" x2="638.1" y2="935.5" stroke="#000" stroke-width="2.0" stroke-linecap="round"/><line x1="667.1" y1="930.5" x2="667.1" y2="935.5" stroke="#000" stroke-width="2.0" stroke-linecap="round"/>
<line x1="420.6" y1="930.5" x2="420.6" y2="933.5" stroke="#000" stroke-width="2.0" stroke-linecap="round"/><line x1="449.6" y1="930.5" x2="449.6" y2="933.5" stroke="#000" stroke-width="2.0" stroke-linecap="round"/><line x1="478.6" y1="930.5" x2="478.6" y2="933.5" stroke="#000" stroke-width="2.0" stroke-linecap="round"/><line x1="507.6" y1="930.5" x2="507.6" y2="933.5" stroke="#000" stroke-width="2.0" stroke-linecap="round"/><line x1="536.6" y1="930.5" x2="536.6" y2="933.5" stroke="#000" stroke-width="2.0" stroke-linecap="round"/><line x1="565.6" y1="930.5" x2="565.6" y2="933.5" stroke="#000" stroke-width="2.0" stroke-linecap="round"/><line x1="594.6" y1="930.5" x2="594.6" y2="933.5" stroke="#000" stroke-width="2.0" stroke-linecap="round"/><line x1="623.6" y1="930.5" x2="623.6" y2="933.5" stroke="#000" stroke-width="2.0" stroke-linecap="round"/><line x1="652.6" y1="930.5" x2="652.6" y2="933.5" stroke="#000" stroke-width="2.0" stroke-linecap="round"/>
<text x="0" y="0" font-size="12.6" font-weight="bold" text-anchor="end" fill="#000" transform="translate(398,934.9) scale(1.0,0.97)" >0</text>
<text x="0" y="0" font-size="12.6" font-weight="bold" text-anchor="end" fill="#000" transform="translate(398,872.67) scale(1.0,0.97)" >10</text>
<text x="0" y="0" font-size="12.6" font-weight="bold" text-anchor="end" fill="#000" transform="translate(398,810.44) scale(1.0,0.97)" >20</text>
<text x="0" y="0" font-size="12.6" font-weight="bold" text-anchor="end" fill="#000" transform="translate(398,748.21) scale(1.0,0.97)" >30</text>
<text x="0" y="0" font-size="12.6" font-weight="bold" text-anchor="middle" fill="#000" transform="translate(406.1,947.4) scale(1.0,0.97)" >0</text>
<text x="0" y="0" font-size="12.6" font-weight="bold" text-anchor="middle" fill="#000" transform="translate(435.1,947.4) scale(1.0,0.97)" >1</text>
<text x="0" y="0" font-size="12.6" font-weight="bold" text-anchor="middle" fill="#000" transform="translate(464.1,947.4) scale(1.0,0.97)" >2</text>
<text x="0" y="0" font-size="12.6" font-weight="bold" text-anchor="middle" fill="#000" transform="translate(493.1,947.4) scale(1.0,0.97)" >3</text>
<text x="0" y="0" font-size="12.6" font-weight="bold" text-anchor="middle" fill="#000" transform="translate(522.1,947.4) scale(1.0,0.97)" >4</text>
<text x="0" y="0" font-size="12.6" font-weight="bold" text-anchor="middle" fill="#000" transform="translate(551.1,947.4) scale(1.0,0.97)" >5</text>
<text x="0" y="0" font-size="12.6" font-weight="bold" text-anchor="middle" fill="#000" transform="translate(580.1,947.4) scale(1.0,0.97)" >6</text>
<text x="0" y="0" font-size="12.6" font-weight="bold" text-anchor="middle" fill="#000" transform="translate(609.1,947.4) scale(1.0,0.97)" >7</text>
<text x="0" y="0" font-size="12.6" font-weight="bold" text-anchor="middle" fill="#000" transform="translate(638.1,947.4) scale(1.0,0.97)" >8</text>
<text x="0" y="0" font-size="12.6" font-weight="bold" text-anchor="middle" fill="#000" transform="translate(667.1,947.4) scale(1.0,0.97)" >9</text>
<text x="0" y="0" font-size="12.3" font-weight="bold" text-anchor="middle" fill="#000" transform="translate(543.6,967.7) scale(1.0,0.97)" >Current density (A/g)</text>
<text x="0" y="0" font-size="12.3" font-weight="bold" text-anchor="middle" fill="#000" transform="translate(379.1,828.75) rotate(-90) scale(1.0,1.07)" >Specific capacitance (F/g)</text>
<text x="0" y="0" font-size="26.1" font-weight="bold" text-anchor="middle" fill="#ff0000" transform="translate(504.9,747.2) scale(1.06,1.0)" >(e)</text>
<text x="0" y="0" font-size="10.6" font-weight="normal" text-anchor="middle" fill="#2a2a2a" transform="translate(578.6,744.9) scale(1.0,0.97)" >BiOBr//BiOBr</text>
<path d="M435.1,731.36 L464.1,839.02 L493.1,879.16 L522.1,893.16 L580.1,904.67 L638.1,911.52" fill="none" stroke="#0000ff" stroke-width="3.1" stroke-linejoin="round" stroke-linecap="round" />
<defs><radialGradient id="ball" cx="0.38" cy="0.33" r="0.7"><stop offset="0" stop-color="#e8e8ff"/><stop offset="0.3" stop-color="#8080ff"/><stop offset="0.6" stop-color="#1a1aff"/><stop offset="1" stop-color="#0000f0"/></radialGradient></defs>
<circle cx="435.1" cy="731.36" r="3.8" fill="url(#ball)"/>
<circle cx="464.1" cy="839.02" r="3.8" fill="url(#ball)"/>
<circle cx="493.1" cy="879.16" r="3.8" fill="url(#ball)"/>
<circle cx="522.1" cy="893.16" r="3.8" fill="url(#ball)"/>
<circle cx="580.1" cy="904.67" r="3.8" fill="url(#ball)"/>
<circle cx="638.1" cy="911.52" r="3.8" fill="url(#ball)"/>
</svg>
</body></html>
